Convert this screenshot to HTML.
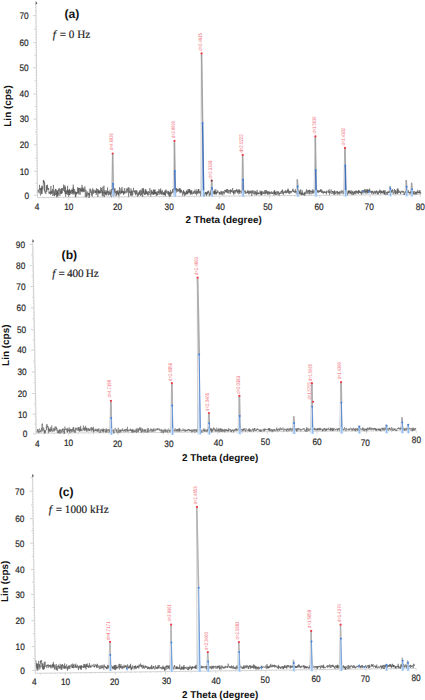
<!DOCTYPE html>
<html><head><meta charset="utf-8"><style>
html,body{margin:0;padding:0;background:#fff;width:425px;height:700px;overflow:hidden}
svg{display:block}
</style></head><body>
<svg width="425" height="700" viewBox="0 0 425 700" text-rendering="geometricPrecision">
<rect width="425" height="700" fill="#fff"/>
<path d="M36.46 192.80h1.0M36.45 190.40h1.0M36.43 188.00h1.0M36.41 185.60h1.0M35.39 183.20h2.0M36.37 180.80h1.0M36.35 178.40h1.0M36.34 176.00h1.0M36.32 173.60h1.0M36.28 168.57h1.0M36.26 165.94h1.0M36.24 163.31h1.0M36.22 160.68h1.0M35.20 158.05h2.0M36.18 155.42h1.0M36.16 152.79h1.0M36.14 150.16h1.0M36.12 147.53h1.0M36.08 142.32h1.0M36.06 139.74h1.0M36.04 137.16h1.0M36.02 134.58h1.0M35.00 132.00h2.0M35.98 129.42h1.0M35.96 126.84h1.0M35.94 124.26h1.0M35.92 121.68h1.0M35.88 116.59h1.0M35.86 114.08h1.0M35.84 111.57h1.0M35.82 109.06h1.0M34.80 106.55h2.0M35.78 104.04h1.0M35.76 101.53h1.0M35.74 99.02h1.0M35.73 96.51h1.0M35.69 91.37h1.0M35.67 88.74h1.0M35.65 86.11h1.0M35.63 83.48h1.0M34.60 80.85h2.0M35.58 78.22h1.0M35.56 75.59h1.0M35.54 72.96h1.0M35.52 70.33h1.0M35.48 65.19h1.0M35.47 62.68h1.0M35.45 60.17h1.0M35.43 57.66h1.0M34.41 55.15h2.0M35.39 52.64h1.0M35.37 50.13h1.0M35.35 47.62h1.0M35.33 45.11h1.0M35.29 39.91h1.0M35.27 37.22h1.0M35.25 34.53h1.0M35.23 31.84h1.0M34.21 29.15h2.0M35.19 26.46h1.0M35.17 23.77h1.0M35.15 21.08h1.0M35.13 18.39h1.0M35.08 13.01h1.0M35.06 10.32h1.0M35.04 7.63h1.0M35.02 4.94h1.0" stroke="#9a9a9a" stroke-width="0.45" fill="none"/>
<path d="M34.28 195.20h3.2M34.10 171.20h3.2M33.90 144.90h3.2M33.70 119.10h3.2M33.51 94.00h3.2M33.30 67.70h3.2M33.11 42.60h3.2M32.91 15.70h3.2" stroke="#b0b0b0" stroke-width="0.6" fill="none"/>
<path d="M38.67 197.49v0.90M43.69 197.45v1.40M48.71 197.41v0.90M53.74 197.37v0.90M58.76 197.33v0.90M63.78 197.29v0.90M68.80 197.26v2.50M73.82 197.22v0.90M78.84 197.18v0.90M83.86 197.14v0.90M88.89 197.10v0.90M93.91 197.06v1.40M98.93 197.02v0.90M103.95 196.98v0.90M108.97 196.94v0.90M113.99 196.90v0.90M119.01 196.86v2.50M124.04 196.82v0.90M129.06 196.78v0.90M134.08 196.74v0.90M139.10 196.70v0.90M144.12 196.67v1.40M149.14 196.63v0.90M154.16 196.59v0.90M159.19 196.55v0.90M164.21 196.51v0.90M169.23 196.47v2.50M174.25 196.43v0.90M179.27 196.39v0.90M184.29 196.35v0.90M189.31 196.31v0.90M194.34 196.27v1.40M199.36 196.23v0.90M204.38 196.19v0.90M209.40 196.15v0.90M214.42 196.12v0.90M219.44 196.08v2.50M224.46 196.04v0.90M229.49 196.00v0.90M234.51 195.96v0.90M239.53 195.92v0.90M244.55 195.88v1.40M249.57 195.84v0.90M254.59 195.80v0.90M259.61 195.76v0.90M264.64 195.72v0.90M269.66 195.68v2.50M274.68 195.64v0.90M279.70 195.60v0.90M284.72 195.57v0.90M289.74 195.53v0.90M294.76 195.49v1.40M299.79 195.45v0.90M304.81 195.41v0.90M309.83 195.37v0.90M314.85 195.33v0.90M319.87 195.29v2.50M324.89 195.25v0.90M329.91 195.21v0.90M334.94 195.17v0.90M339.96 195.13v0.90M344.98 195.09v1.40M350.00 195.05v0.90M355.02 195.01v0.90M360.04 194.98v0.90M365.06 194.94v0.90M370.09 194.90v2.50M375.11 194.86v0.90M380.13 194.82v0.90M385.15 194.78v0.90M390.17 194.74v0.90M395.19 194.70v1.40M400.21 194.66v0.90M405.24 194.62v0.90M410.26 194.58v0.90M415.28 194.54v0.90M420.30 194.50v2.50" stroke="#c4c4c4" stroke-width="0.6" fill="none"/>
<line x1="36.0" y1="2.0" x2="37.5" y2="197.5" stroke="#c2c2c2" stroke-width="0.7"/>
<line x1="37.5" y1="197.5" x2="420.8" y2="194.5" stroke="#c8c8c8" stroke-width="0.8"/>
<path d="M35.80 1.00l1.6 2.6l-1.8 0.6z" fill="#555"/>
<text transform="translate(28.60 19.00) scale(0.88 1)" text-anchor="end" font-family='"Liberation Sans", sans-serif' font-size="9.4" fill="#2a2a2a" stroke="#2a2a2a" stroke-width="0.22">70</text>
<text transform="translate(28.66 45.90) scale(0.88 1)" text-anchor="end" font-family='"Liberation Sans", sans-serif' font-size="9.4" fill="#2a2a2a" stroke="#2a2a2a" stroke-width="0.22">60</text>
<text transform="translate(28.71 71.00) scale(0.88 1)" text-anchor="end" font-family='"Liberation Sans", sans-serif' font-size="9.4" fill="#2a2a2a" stroke="#2a2a2a" stroke-width="0.22">50</text>
<text transform="translate(28.77 97.30) scale(0.88 1)" text-anchor="end" font-family='"Liberation Sans", sans-serif' font-size="9.4" fill="#2a2a2a" stroke="#2a2a2a" stroke-width="0.22">40</text>
<text transform="translate(28.83 122.40) scale(0.88 1)" text-anchor="end" font-family='"Liberation Sans", sans-serif' font-size="9.4" fill="#2a2a2a" stroke="#2a2a2a" stroke-width="0.22">30</text>
<text transform="translate(28.89 148.20) scale(0.88 1)" text-anchor="end" font-family='"Liberation Sans", sans-serif' font-size="9.4" fill="#2a2a2a" stroke="#2a2a2a" stroke-width="0.22">20</text>
<text transform="translate(28.94 174.50) scale(0.88 1)" text-anchor="end" font-family='"Liberation Sans", sans-serif' font-size="9.4" fill="#2a2a2a" stroke="#2a2a2a" stroke-width="0.22">10</text>
<text transform="translate(29.00 198.50) scale(0.88 1)" text-anchor="end" font-family='"Liberation Sans", sans-serif' font-size="9.4" fill="#2a2a2a" stroke="#2a2a2a" stroke-width="0.22">0</text>
<text transform="translate(37.00 210.10) scale(0.88 1)" text-anchor="middle" font-family='"Liberation Sans", sans-serif' font-size="9.4" fill="#2a2a2a" stroke="#2a2a2a" stroke-width="0.22">4</text>
<text transform="translate(68.80 210.10) scale(0.88 1)" text-anchor="middle" font-family='"Liberation Sans", sans-serif' font-size="9.4" fill="#2a2a2a" stroke="#2a2a2a" stroke-width="0.22">10</text>
<text transform="translate(117.50 210.10) scale(0.88 1)" text-anchor="middle" font-family='"Liberation Sans", sans-serif' font-size="9.4" fill="#2a2a2a" stroke="#2a2a2a" stroke-width="0.22">20</text>
<text transform="translate(169.20 210.10) scale(0.88 1)" text-anchor="middle" font-family='"Liberation Sans", sans-serif' font-size="9.4" fill="#2a2a2a" stroke="#2a2a2a" stroke-width="0.22">30</text>
<text transform="translate(220.30 209.80) scale(0.88 1)" text-anchor="middle" font-family='"Liberation Sans", sans-serif' font-size="9.4" fill="#2a2a2a" stroke="#2a2a2a" stroke-width="0.22">40</text>
<text transform="translate(267.80 210.10) scale(0.88 1)" text-anchor="middle" font-family='"Liberation Sans", sans-serif' font-size="9.4" fill="#2a2a2a" stroke="#2a2a2a" stroke-width="0.22">50</text>
<text transform="translate(319.10 209.80) scale(0.88 1)" text-anchor="middle" font-family='"Liberation Sans", sans-serif' font-size="9.4" fill="#2a2a2a" stroke="#2a2a2a" stroke-width="0.22">60</text>
<text transform="translate(369.20 210.10) scale(0.88 1)" text-anchor="middle" font-family='"Liberation Sans", sans-serif' font-size="9.4" fill="#2a2a2a" stroke="#2a2a2a" stroke-width="0.22">70</text>
<text transform="translate(420.30 210.10) scale(0.88 1)" text-anchor="middle" font-family='"Liberation Sans", sans-serif' font-size="9.4" fill="#2a2a2a" stroke="#2a2a2a" stroke-width="0.22">80</text>
<text x="223.60" y="223.30" text-anchor="middle" font-family='"Liberation Sans", sans-serif' font-weight="bold" font-size="9.9" fill="#111">2 Theta (degree)</text>
<text transform="translate(11.20 106.00) rotate(-90)" text-anchor="middle" font-family='"Liberation Sans", sans-serif' font-weight="bold" font-size="9.95" fill="#111">Lin (cps)</text>
<text x="71.85" y="18.10" text-anchor="middle" font-family='"Liberation Sans", sans-serif' font-weight="bold" font-size="12.2" fill="#111">(a)</text>
<text x="52.80" y="37.70" font-family='"Liberation Serif", serif' font-size="11.2" fill="#1a1a1a" stroke="#1a1a1a" stroke-width="0.15" word-spacing="0"><tspan font-style="italic">f</tspan><tspan dx="1.0"> = 0 Hz</tspan></text>
<path d="M38.10 192.35 38.28 189.64 38.46 189.66 38.64 192.09 38.82 191.90 39.00 191.83 39.18 193.34 39.36 192.41 39.54 184.87 39.72 188.56 39.90 190.02 40.08 188.40 40.26 191.72 40.44 195.56 40.62 194.17 40.80 188.10 40.98 189.94 41.16 191.26 41.34 187.52 41.52 193.89 41.70 190.74 41.88 185.75 42.06 194.02 42.24 188.43 42.42 186.63 42.60 188.38 42.78 189.47 42.96 188.66 43.14 185.97 43.32 180.07 43.50 181.84 43.68 180.31 43.86 183.32 44.04 181.03 44.22 188.47 44.40 191.00 44.58 182.44 44.76 187.98 44.94 192.62 45.12 190.80 45.30 191.70 45.48 192.72 45.66 192.67 45.84 194.16 46.02 192.30 46.20 188.32 46.38 184.97 46.56 191.82 46.74 192.02 46.92 186.43 47.10 187.80 47.28 188.78 47.46 184.74 47.64 187.04 47.82 190.27 48.00 188.13 48.18 189.36 48.36 189.44 48.54 188.26 48.72 188.13 48.90 192.88 49.08 193.81 49.26 192.04 49.44 193.19 49.62 192.35 49.80 191.78 49.98 193.44 50.16 193.36 50.34 191.38 50.52 194.68 50.70 193.15 50.88 186.03 51.06 192.90 51.24 192.95 51.42 193.86 51.60 190.88 51.78 193.78 51.96 192.39 52.14 192.36 52.32 190.46 52.50 188.98 52.68 194.37 52.86 195.96 53.04 190.72 53.22 193.11 53.40 184.95 53.58 188.40 53.76 188.45 53.94 195.31 54.12 192.67 54.30 192.73 54.48 196.21 54.66 191.81 54.84 190.35 55.02 192.77 55.20 195.19 55.38 195.00 55.56 189.03 55.74 190.53 55.92 188.89 56.10 194.81 56.28 190.89 56.46 190.30 56.64 197.34 56.82 196.94 57.00 192.75 57.18 196.12 57.36 190.96 57.54 193.55 57.72 190.24 57.90 196.67 58.08 192.51 58.26 194.79 58.44 191.89 58.62 190.58 58.80 189.02 58.98 191.25 59.16 187.86 59.34 191.92 59.52 193.78 59.70 193.64 59.88 195.93 60.06 194.18 60.24 188.89 60.42 193.79 60.60 190.79 60.78 190.73 60.96 191.25 61.14 191.29 61.32 193.83 61.50 188.14 61.68 193.80 61.86 189.20 62.04 192.96 62.22 193.01 62.40 188.14 62.58 189.07 62.76 189.53 62.94 188.79 63.12 190.02 63.30 190.94 63.48 190.26 63.66 184.55 63.84 188.95 64.02 186.93 64.20 188.13 64.38 191.40 64.56 190.62 64.74 191.87 64.92 185.28 65.10 193.91 65.28 189.48 65.46 186.87 65.64 196.73 65.82 192.77 66.00 191.30 66.18 193.96 66.36 191.26 66.54 193.58 66.72 191.06 66.90 190.38 67.08 191.76 67.26 189.22 67.44 194.78 67.62 185.81 67.80 193.45 67.98 193.74 68.16 193.90 68.34 194.57 68.52 190.40 68.70 196.84 68.88 190.40 69.06 192.52 69.24 189.58 69.42 195.00 69.60 188.86 69.78 194.95 69.96 194.95 70.14 193.32 70.32 190.25 70.50 193.29 70.68 191.50 70.86 192.82 71.04 192.56 71.22 193.85 71.40 189.95 71.58 191.75 71.76 192.09 71.94 192.12 72.12 188.63 72.30 194.29 72.48 191.40 72.66 189.64 72.84 191.58 73.02 192.96 73.20 184.62 73.38 194.44 73.56 187.32 73.74 191.67 73.92 191.02 74.10 192.71 74.28 192.46 74.46 193.80 74.64 189.17 74.82 193.44 75.00 194.16 75.18 193.93 75.36 196.93 75.54 191.50 75.72 197.24 75.90 193.98 76.08 192.15 76.26 192.25 76.44 194.56 76.62 192.13 76.80 193.55 76.98 192.42 77.16 193.82 77.34 190.41 77.52 188.42 77.70 187.01 77.88 192.90 78.06 191.57 78.24 188.30 78.42 193.31 78.60 190.28 78.78 188.00 78.96 194.64 79.14 191.79 79.32 187.93 79.50 189.07 79.68 188.11 79.86 192.00 80.04 193.22 80.22 194.69 80.40 190.43 80.58 188.82 80.76 191.33 80.94 187.75 81.12 191.08 81.30 190.37 81.48 189.33 81.66 192.12 81.84 189.72 82.02 184.92 82.20 191.09 82.38 191.11 82.56 187.52 82.74 189.96 82.92 192.25 83.10 188.88 83.28 190.69 83.46 191.74 83.64 187.76 83.82 189.11 84.00 190.30 84.18 190.73 84.36 189.71 84.54 190.54 84.72 191.85 84.90 186.39 85.08 192.22 85.26 196.86 85.44 194.81 85.62 194.23 85.80 191.80 85.98 189.80 86.16 190.21 86.34 197.41 86.52 192.51 86.70 192.78 86.88 193.06 87.06 194.20 87.24 196.35 87.42 192.78 87.60 191.78 87.78 191.46 87.96 192.08 88.14 194.57 88.32 193.19 88.50 194.82 88.68 193.62 88.86 195.80 89.04 198.03 89.22 194.77 89.40 192.67 89.58 196.33 89.76 189.85 89.94 188.53 90.12 191.42 90.30 191.70 90.48 189.89 90.66 189.08 90.84 192.97 91.02 191.85 91.20 192.47 91.38 195.49 91.56 191.89 91.74 190.44 91.92 190.98 92.10 192.99 92.28 196.67 92.46 191.81 92.64 188.29 92.82 192.69 93.00 193.23 93.18 193.05 93.36 193.94 93.54 189.77 93.72 189.44 93.90 192.87 94.08 192.74 94.26 192.20 94.44 191.42 94.62 191.25 94.80 190.26 94.98 193.08 95.16 192.64 95.34 190.47 95.52 191.40 95.70 192.80 95.88 190.78 96.06 192.26 96.24 195.00 96.42 188.18 96.60 191.92 96.78 193.10 96.96 191.44 97.14 191.00 97.32 189.01 97.50 192.42 97.68 193.04 97.86 196.96 98.04 190.52 98.22 193.32 98.40 189.30 98.58 192.46 98.76 191.16 98.94 192.48 99.12 191.27 99.30 193.68 99.48 190.94 99.66 190.29 99.84 193.58 100.02 191.47 100.20 192.69 100.38 191.92 100.56 192.53 100.74 187.17 100.92 192.04 101.10 193.28 101.28 190.00 101.46 188.06 101.64 191.25 101.82 191.17 102.00 190.19 102.18 195.27 102.36 196.26 102.54 191.42 102.72 193.64 102.90 186.65 103.08 193.04 103.26 196.22 103.44 192.11 103.62 192.58 103.80 189.53 103.98 185.66 104.16 191.47 104.34 197.06 104.52 191.89 104.70 190.50 104.88 193.49 105.06 192.26 105.24 194.02 105.42 191.87 105.60 192.00 105.78 195.12 105.96 190.10 106.14 193.10 106.32 195.40 106.50 193.95 106.68 191.78 106.86 193.78 107.04 191.13 107.22 191.99 107.40 191.20 107.58 187.46 107.76 193.29 107.94 191.41 108.12 195.47 108.30 193.60 108.48 192.52 108.66 191.20 108.84 192.55 109.02 195.07 109.20 191.83 109.38 194.08 109.56 193.79 109.74 192.26 109.92 189.69 110.10 189.83 110.28 191.69 110.46 194.51 110.64 191.88 110.82 196.09 111.00 193.53 111.18 193.57 111.36 197.25 111.54 189.03 111.72 193.96 111.90 194.65 112.08 190.97 112.26 195.26 112.44 190.70 112.62 188.78 112.80 191.79 112.98 191.32 113.16 191.72 113.34 191.13 113.52 194.02 113.70 196.23 113.88 191.65 114.06 195.83 114.24 191.70 114.42 189.11 114.60 191.95 114.78 192.19 114.96 188.05 115.14 192.49 115.32 193.07 115.50 191.99 115.68 191.79 115.86 191.10 116.04 196.23 116.22 192.46 116.40 190.88 116.58 194.42 116.76 193.65 116.94 195.30 117.12 191.33 117.30 192.75 117.48 191.37 117.66 193.72 117.84 190.07 118.02 192.96 118.20 193.91 118.38 191.60 118.56 195.10 118.74 193.15 118.92 196.49 119.10 194.36 119.28 193.45 119.46 187.21 119.64 193.21 119.82 190.84 120.00 192.81 120.18 193.97 120.36 194.18 120.54 192.04 120.72 192.28 120.90 188.35 121.08 193.49 121.26 193.55 121.44 193.24 121.62 190.86 121.80 193.14 121.98 187.01 122.16 192.91 122.34 190.61 122.52 192.48 122.70 191.71 122.88 191.26 123.06 191.80 123.24 191.49 123.42 194.63 123.60 191.42 123.78 194.50 123.96 192.10 124.14 193.46 124.32 188.20 124.50 193.25 124.68 192.04 124.86 191.79 125.04 190.93 125.22 191.04 125.40 193.23 125.58 193.00 125.76 192.20 125.94 192.23 126.12 191.78 126.30 188.35 126.48 191.94 126.66 191.70 126.84 193.21 127.02 193.08 127.20 191.84 127.38 191.22 127.56 188.46 127.74 191.70 127.92 191.51 128.10 191.37 128.28 187.11 128.46 188.58 128.64 196.57 128.82 192.03 129.00 191.33 129.18 187.72 129.36 192.94 129.54 191.09 129.72 191.43 129.90 191.42 130.08 191.85 130.26 193.41 130.44 191.73 130.62 192.22 130.80 196.02 130.98 188.35 131.16 195.13 131.34 193.95 131.52 190.90 131.70 190.71 131.88 190.16 132.06 196.24 132.24 191.04 132.42 191.04 132.60 192.58 132.78 194.96 132.96 192.77 133.14 191.75 133.32 191.09 133.50 187.84 133.68 190.33 133.86 191.88 134.04 192.13 134.22 190.42 134.40 191.02 134.58 192.47 134.76 191.16 134.94 191.74 135.12 192.97 135.30 194.39 135.48 191.16 135.66 190.19 135.84 195.32 136.02 193.11 136.20 193.80 136.38 190.19 136.56 193.24 136.74 192.88 136.92 191.84 137.10 190.76 137.28 191.49 137.46 196.66 137.64 193.50 137.82 193.48 138.00 194.19 138.18 193.44 138.36 192.96 138.54 195.77 138.72 192.92 138.90 192.00 139.08 194.41 139.26 194.50 139.44 190.51 139.62 193.86 139.80 191.60 139.98 191.57 140.16 194.40 140.34 194.02 140.52 195.90 140.70 189.79 140.88 191.65 141.06 192.16 141.24 190.70 141.42 195.40 141.60 192.64 141.78 192.70 141.96 194.22 142.14 188.48 142.32 191.21 142.50 191.83 142.68 196.89 142.86 190.67 143.04 188.08 143.22 192.70 143.40 188.55 143.58 192.76 143.76 190.86 143.94 194.07 144.12 193.90 144.30 192.41 144.48 195.02 144.66 193.21 144.84 192.54 145.02 189.97 145.20 189.47 145.38 193.45 145.56 194.74 145.74 189.02 145.92 194.23 146.10 190.98 146.28 194.00 146.46 193.56 146.64 190.77 146.82 190.67 147.00 191.93 147.18 193.52 147.36 191.83 147.54 194.61 147.72 193.23 147.90 195.71 148.08 193.97 148.26 192.56 148.44 191.20 148.62 193.69 148.80 194.17 148.98 195.05 149.16 192.36 149.34 192.11 149.52 191.77 149.70 192.86 149.88 188.06 150.06 193.14 150.24 192.88 150.42 194.66 150.60 195.27 150.78 196.37 150.96 193.68 151.14 190.48 151.32 194.21 151.50 194.41 151.68 189.89 151.86 191.47 152.04 193.50 152.22 192.07 152.40 192.32 152.58 193.91 152.76 191.59 152.94 194.96 153.12 194.42 153.30 191.60 153.48 189.69 153.66 193.36 153.84 195.09 154.02 189.73 154.20 193.90 154.38 190.05 154.56 193.84 154.74 191.72 154.92 193.99 155.10 189.31 155.28 193.39 155.46 194.10 155.64 192.30 155.82 193.37 156.00 192.25 156.18 195.70 156.36 194.20 156.54 193.18 156.72 191.60 156.90 195.79 157.08 194.26 157.26 193.74 157.44 194.94 157.62 191.13 157.80 191.45 157.98 194.83 158.16 194.32 158.34 191.89 158.52 191.30 158.70 193.04 158.88 188.91 159.06 189.80 159.24 190.53 159.42 191.00 159.60 194.58 159.78 193.55 159.96 189.93 160.14 191.53 160.32 193.16 160.50 190.94 160.68 188.45 160.86 194.37 161.04 190.47 161.22 191.94 161.40 192.41 161.58 194.62 161.76 191.57 161.94 193.84 162.12 191.54 162.30 191.78 162.48 190.28 162.66 193.93 162.84 194.33 163.02 193.40 163.20 195.43 163.38 192.45 163.56 193.68 163.74 192.34 163.92 193.21 164.10 192.95 164.28 194.70 164.46 191.42 164.64 195.25 164.82 192.90 165.00 194.52 165.18 190.26 165.36 192.67 165.54 196.05 165.72 194.10 165.90 189.51 166.08 192.46 166.26 191.84 166.44 190.83 166.62 191.22 166.80 193.10 166.98 192.58 167.16 192.46 167.34 193.62 167.52 194.14 167.70 193.12 167.88 190.66 168.06 190.92 168.24 193.78 168.42 191.29 168.60 195.58 168.78 192.87 168.96 193.81 169.14 192.33 169.32 193.98 169.50 196.30 169.68 194.11 169.86 191.87 170.04 196.76 170.22 191.56 170.40 190.08 170.58 190.12 170.76 195.71 170.94 192.42 171.12 193.87 171.30 191.99 171.48 193.35 171.66 192.40 171.84 192.47 172.02 192.18 172.20 190.91 172.38 192.24 172.56 192.32 172.74 188.99 172.92 192.85 173.10 191.57 173.28 189.80 173.46 192.27 173.64 188.22 173.82 195.14 174.00 191.20 174.18 191.15 174.36 189.12 174.54 194.04 174.72 192.56 174.90 190.45 175.08 192.72 175.26 191.85 175.44 189.78 175.62 189.66 175.80 191.02 175.98 190.43 176.16 188.09 176.34 191.76 176.52 192.59 176.70 188.21 176.88 191.39 177.06 189.62 177.24 191.61 177.42 191.39 177.60 190.54 177.78 189.04 177.96 190.50 178.14 190.01 178.32 189.43 178.50 190.47 178.68 189.86 178.86 190.73 179.04 191.95 179.22 188.05 179.40 190.27 179.58 189.16 179.76 191.16 179.94 193.24 180.12 193.15 180.30 188.38 180.48 192.31 180.66 191.93 180.84 189.86 181.02 191.17 181.20 192.37 181.38 189.78 181.56 191.88 181.74 192.44 181.92 191.10 182.10 192.26 182.28 192.38 182.46 195.58 182.64 194.67 182.82 193.17 183.00 191.72 183.18 191.83 183.36 194.01 183.54 189.93 183.72 192.33 183.90 190.95 184.08 193.29 184.26 195.92 184.44 192.12 184.62 192.84 184.80 192.04 184.98 194.95 185.16 195.47 185.34 192.68 185.52 194.02 185.70 193.13 185.88 194.69 186.06 194.01 186.24 190.91 186.42 193.77 186.60 191.27 186.78 191.55 186.96 194.17 187.14 189.57 187.32 194.24 187.50 192.24 187.68 191.72 187.86 193.66 188.04 193.72 188.22 189.70 188.40 190.59 188.58 191.99 188.76 192.78 188.94 188.90 189.12 193.10 189.30 189.47 189.48 191.75 189.66 190.18 189.84 189.11 190.02 192.86 190.20 191.08 190.38 194.65 190.56 191.77 190.74 190.56 190.92 192.19 191.10 194.62 191.28 190.33 191.46 193.83 191.64 191.20 191.82 190.40 192.00 190.92 192.18 192.29 192.36 193.00 192.54 194.40 192.72 193.58 192.90 192.98 193.08 192.31 193.26 192.09 193.44 193.71 193.62 191.46 193.80 191.39 193.98 192.16 194.16 193.74 194.34 191.49 194.52 192.20 194.70 191.10 194.88 192.11 195.06 189.48 195.24 193.57 195.42 194.09 195.60 193.41 195.78 191.68 195.96 193.37 196.14 192.13 196.32 191.38 196.50 195.34 196.68 194.62 196.86 189.28 197.04 190.87 197.22 192.45 197.40 191.65 197.58 193.12 197.76 194.13 197.94 191.02 198.12 192.56 198.30 190.62 198.48 189.07 198.66 193.07 198.84 189.07 199.02 191.51 199.20 191.01 199.38 193.41 199.56 193.35 199.74 192.55 199.92 193.31 200.10 192.21 200.28 191.41 200.46 193.60 200.64 196.28 200.82 190.66 201.00 194.47 201.18 195.51 201.36 191.73 201.54 193.78 201.72 191.83 201.90 192.68 202.08 193.80 202.26 191.28 202.44 195.85 202.62 194.91 202.80 194.38 202.98 192.23 203.16 195.03 203.34 196.31 203.52 196.41 203.70 195.03 203.88 192.84 204.06 193.76 204.24 194.56 204.42 196.53 204.60 193.46 204.78 194.30 204.96 193.25 205.14 192.24 205.32 193.46 205.50 192.19 205.68 193.54 205.86 191.90 206.04 195.06 206.22 193.05 206.40 193.12 206.58 195.94 206.76 192.51 206.94 193.82 207.12 192.19 207.30 194.29 207.48 191.47 207.66 191.22 207.84 193.62 208.02 191.48 208.20 192.50 208.38 191.76 208.56 190.64 208.74 193.15 208.92 192.34 209.10 192.47 209.28 196.06 209.46 193.98 209.64 194.60 209.82 193.35 210.00 193.68 210.18 194.89 210.36 190.56 210.54 195.35 210.72 194.67 210.90 194.41 211.08 192.90 211.26 193.01 211.44 193.03 211.62 192.97 211.80 193.83 211.98 195.95 212.16 193.34 212.34 192.20 212.52 193.56 212.70 192.27 212.88 192.40 213.06 191.48 213.24 193.49 213.42 193.12 213.60 193.76 213.78 193.37 213.96 190.99 214.14 194.31 214.32 191.83 214.50 189.75 214.68 193.75 214.86 191.29 215.04 194.69 215.22 191.19 215.40 193.89 215.58 193.77 215.76 189.13 215.94 189.72 216.12 193.17 216.30 192.03 216.48 194.48 216.66 191.74 216.84 192.61 217.02 193.26 217.20 192.73 217.38 192.40 217.56 192.27 217.74 190.30 217.92 192.93 218.10 192.17 218.28 191.93 218.46 191.73 218.64 191.74 218.82 192.14 219.00 192.11 219.18 194.41 219.36 193.92 219.54 192.26 219.72 194.36 219.90 192.43 220.08 193.22 220.26 194.07 220.44 193.65 220.62 193.72 220.80 191.14 220.98 191.71 221.16 194.91 221.34 192.94 221.52 191.27 221.70 193.33 221.88 194.08 222.06 193.50 222.24 192.46 222.42 191.61 222.60 191.66 222.78 195.40 222.96 194.52 223.14 192.60 223.32 191.13 223.50 192.98 223.68 193.07 223.86 192.95 224.04 191.94 224.22 193.73 224.40 194.23 224.58 190.34 224.76 190.74 224.94 189.92 225.12 190.68 225.30 190.16 225.48 192.09 225.66 192.39 225.84 190.58 226.02 192.14 226.20 191.29 226.38 189.15 226.56 191.05 226.74 192.27 226.92 190.60 227.10 192.84 227.28 192.44 227.46 188.95 227.64 191.56 227.82 192.78 228.00 193.31 228.18 191.47 228.36 191.31 228.54 189.82 228.72 191.99 228.90 193.35 229.08 192.03 229.26 191.18 229.44 190.92 229.62 190.34 229.80 191.23 229.98 190.09 230.16 192.82 230.34 193.95 230.52 189.53 230.70 192.09 230.88 192.24 231.06 189.60 231.24 190.80 231.42 191.75 231.60 191.18 231.78 190.48 231.96 192.21 232.14 191.09 232.32 191.36 232.50 190.30 232.68 187.95 232.86 191.07 233.04 193.11 233.22 191.83 233.40 192.85 233.58 190.47 233.76 194.75 233.94 191.30 234.12 192.74 234.30 193.42 234.48 191.58 234.66 190.12 234.84 190.86 235.02 191.54 235.20 193.57 235.38 190.09 235.56 190.30 235.74 191.66 235.92 190.47 236.10 191.79 236.28 190.66 236.46 189.21 236.64 191.05 236.82 189.81 237.00 189.78 237.18 192.16 237.36 193.30 237.54 190.78 237.72 191.76 237.90 192.68 238.08 189.59 238.26 191.94 238.44 191.69 238.62 190.42 238.80 194.26 238.98 190.49 239.16 189.16 239.34 191.07 239.52 192.44 239.70 190.11 239.88 193.69 240.06 191.05 240.24 191.74 240.42 191.58 240.60 190.86 240.78 190.80 240.96 190.68 241.14 191.28 241.32 193.08 241.50 192.07 241.68 192.39 241.86 191.74 242.04 190.25 242.22 193.34 242.40 192.27 242.58 191.11 242.76 192.42 242.94 190.79 243.12 193.23 243.30 193.67 243.48 194.43 243.66 191.27 243.84 191.49 244.02 190.25 244.20 190.41 244.38 192.23 244.56 190.82 244.74 191.01 244.92 191.23 245.10 193.74 245.28 192.60 245.46 190.70 245.64 191.56 245.82 193.79 246.00 193.16 246.18 192.64 246.36 192.69 246.54 191.96 246.72 192.38 246.90 193.24 247.08 193.05 247.26 190.64 247.44 190.34 247.62 193.09 247.80 192.89 247.98 191.34 248.16 193.29 248.34 191.23 248.52 191.26 248.70 191.62 248.88 194.51 249.06 190.33 249.24 192.62 249.42 193.35 249.60 193.79 249.78 192.93 249.96 191.92 250.14 191.18 250.32 191.62 250.50 193.25 250.68 192.48 250.86 190.53 251.04 192.94 251.22 191.19 251.40 193.07 251.58 194.51 251.76 195.94 251.94 192.43 252.12 191.65 252.30 190.36 252.48 193.46 252.66 192.54 252.84 192.31 253.02 190.60 253.20 191.94 253.38 193.90 253.56 193.72 253.74 192.75 253.92 192.64 254.10 190.60 254.28 194.60 254.46 192.73 254.64 192.69 254.82 193.54 255.00 193.44 255.18 193.59 255.36 190.91 255.54 193.83 255.72 192.52 255.90 192.29 256.08 195.33 256.26 194.13 256.44 194.77 256.62 191.72 256.80 194.24 256.98 191.51 257.16 189.89 257.34 193.23 257.52 193.13 257.70 192.95 257.88 194.58 258.06 192.75 258.24 193.81 258.42 193.02 258.60 192.52 258.78 192.57 258.96 193.94 259.14 192.83 259.32 194.13 259.50 193.39 259.68 192.95 259.86 192.24 260.04 190.66 260.22 191.99 260.40 193.53 260.58 193.44 260.76 192.14 260.94 194.88 261.12 190.81 261.30 195.41 261.48 191.57 261.66 194.14 261.84 192.38 262.02 194.48 262.20 194.85 262.38 193.40 262.56 192.05 262.74 191.03 262.92 191.38 263.10 193.02 263.28 193.94 263.46 192.68 263.64 192.16 263.82 193.73 264.00 192.75 264.18 192.78 264.36 192.36 264.54 190.45 264.72 191.30 264.90 194.48 265.08 192.31 265.26 193.55 265.44 190.12 265.62 191.87 265.80 193.63 265.98 191.69 266.16 192.71 266.34 193.43 266.52 191.95 266.70 190.08 266.88 192.47 267.06 192.48 267.24 191.21 267.42 194.35 267.60 192.45 267.78 191.92 267.96 194.86 268.14 192.85 268.32 191.35 268.50 193.77 268.68 193.89 268.86 193.30 269.04 191.85 269.22 192.98 269.40 191.54 269.58 194.46 269.76 193.36 269.94 192.47 270.12 192.59 270.30 194.16 270.48 193.64 270.66 192.30 270.84 192.80 271.02 193.22 271.20 191.43 271.38 191.45 271.56 192.20 271.74 193.99 271.92 192.97 272.10 192.24 272.28 191.97 272.46 192.22 272.64 193.89 272.82 193.01 273.00 193.91 273.18 191.51 273.36 191.80 273.54 191.87 273.72 192.00 273.90 195.19 274.08 195.01 274.26 190.90 274.44 193.98 274.62 189.99 274.80 192.67 274.98 192.62 275.16 192.02 275.34 194.83 275.52 192.01 275.70 194.21 275.88 191.57 276.06 193.17 276.24 194.62 276.42 194.69 276.60 195.00 276.78 193.53 276.96 192.04 277.14 190.90 277.32 192.96 277.50 193.57 277.68 192.64 277.86 192.35 278.04 194.88 278.22 191.56 278.40 192.72 278.58 191.65 278.76 191.57 278.94 193.42 279.12 195.55 279.30 192.70 279.48 193.98 279.66 193.08 279.84 193.40 280.02 192.88 280.20 193.01 280.38 193.31 280.56 192.66 280.74 191.54 280.92 193.85 281.10 194.00 281.28 191.49 281.46 192.08 281.64 191.10 281.82 190.53 282.00 190.65 282.18 192.68 282.36 189.58 282.54 191.52 282.72 194.15 282.90 190.67 283.08 191.22 283.26 191.57 283.44 192.52 283.62 194.68 283.80 191.96 283.98 192.77 284.16 192.38 284.34 192.25 284.52 192.40 284.70 191.48 284.88 192.37 285.06 192.96 285.24 190.38 285.42 191.64 285.60 191.47 285.78 192.71 285.96 190.20 286.14 193.54 286.32 192.72 286.50 192.40 286.68 191.33 286.86 192.21 287.04 192.86 287.22 191.17 287.40 192.44 287.58 190.26 287.76 191.07 287.94 188.55 288.12 191.40 288.30 189.47 288.48 192.38 288.66 193.33 288.84 190.81 289.02 191.76 289.20 193.89 289.38 190.98 289.56 190.95 289.74 192.57 289.92 192.80 290.10 193.48 290.28 191.60 290.46 192.19 290.64 191.59 290.82 192.33 291.00 190.89 291.18 192.66 291.36 192.80 291.54 191.71 291.72 191.11 291.90 191.74 292.08 191.34 292.26 191.22 292.44 190.94 292.62 189.82 292.80 190.85 292.98 188.61 293.16 192.17 293.34 191.16 293.52 191.75 293.70 191.74 293.88 190.37 294.06 191.60 294.24 191.15 294.42 191.90 294.60 192.50 294.78 191.63 294.96 191.60 295.14 192.72 295.32 189.32 295.50 192.37 295.68 191.24 295.86 192.16 296.04 191.38 296.22 190.99 296.40 194.55 296.58 193.60 296.76 193.23 296.94 193.72 297.12 193.05 297.30 193.68 297.48 191.80 297.66 193.33 297.84 193.70 298.02 193.23 298.20 190.65 298.38 194.99 298.56 193.88 298.74 194.51 298.92 191.83 299.10 190.25 299.28 193.59 299.46 192.45 299.64 193.91 299.82 191.43 300.00 190.76 300.18 194.52 300.36 193.56 300.54 191.40 300.72 189.29 300.90 192.55 301.08 194.71 301.26 193.02 301.44 194.59 301.62 193.44 301.80 192.47 301.98 195.10 302.16 190.22 302.34 192.68 302.52 194.89 302.70 192.38 302.88 192.56 303.06 192.76 303.24 193.39 303.42 195.08 303.60 193.85 303.78 193.93 303.96 194.70 304.14 194.73 304.32 193.02 304.50 194.04 304.68 192.43 304.86 195.73 305.04 191.84 305.22 193.88 305.40 193.55 305.58 193.60 305.76 193.89 305.94 193.13 306.12 191.25 306.30 192.29 306.48 189.33 306.66 191.31 306.84 193.22 307.02 193.85 307.20 192.95 307.38 192.47 307.56 192.13 307.74 190.15 307.92 193.58 308.10 192.49 308.28 192.47 308.46 190.26 308.64 191.88 308.82 191.04 309.00 190.74 309.18 194.51 309.36 192.09 309.54 191.02 309.72 189.66 309.90 193.57 310.08 190.69 310.26 190.68 310.44 191.42 310.62 190.71 310.80 190.48 310.98 193.29 311.16 194.29 311.34 191.78 311.52 191.15 311.70 192.05 311.88 190.92 312.06 191.22 312.24 190.69 312.42 193.65 312.60 191.93 312.78 189.39 312.96 191.45 313.14 193.11 313.32 191.05 313.50 192.46 313.68 192.51 313.86 190.50 314.04 192.01 314.22 194.03 314.40 190.25 314.58 191.58 314.76 190.64 314.94 190.27 315.12 191.14 315.30 192.02 315.48 191.40 315.66 192.83 315.84 191.72 316.02 190.51 316.20 192.26 316.38 191.06 316.56 189.56 316.74 192.66 316.92 189.91 317.10 191.79 317.28 191.85 317.46 190.47 317.64 192.28 317.82 190.36 318.00 192.36 318.18 191.07 318.36 191.32 318.54 192.84 318.72 191.96 318.90 190.41 319.08 191.23 319.26 190.50 319.44 192.13 319.62 192.06 319.80 190.78 319.98 192.00 320.16 191.98 320.34 191.08 320.52 189.45 320.70 191.40 320.88 189.78 321.06 189.19 321.24 191.92 321.42 192.64 321.60 191.98 321.78 190.15 321.96 192.53 322.14 190.55 322.32 192.71 322.50 192.73 322.68 192.17 322.86 191.77 323.04 193.43 323.22 192.71 323.40 193.47 323.58 193.34 323.76 191.40 323.94 192.35 324.12 192.86 324.30 191.07 324.48 192.00 324.66 193.09 324.84 192.31 325.02 192.72 325.20 191.72 325.38 191.56 325.56 191.72 325.74 192.89 325.92 192.16 326.10 191.88 326.28 194.38 326.46 194.03 326.64 190.75 326.82 192.75 327.00 192.56 327.18 192.33 327.36 191.57 327.54 191.56 327.72 191.42 327.90 191.30 328.08 190.74 328.26 190.39 328.44 192.76 328.62 191.45 328.80 191.70 328.98 192.47 329.16 189.36 329.34 192.95 329.52 194.65 329.70 191.39 329.88 192.87 330.06 193.05 330.24 193.26 330.42 191.80 330.60 191.99 330.78 191.78 330.96 191.80 331.14 189.30 331.32 192.64 331.50 193.46 331.68 193.80 331.86 193.17 332.04 191.15 332.22 191.84 332.40 191.86 332.58 190.93 332.76 192.36 332.94 193.90 333.12 191.42 333.30 192.61 333.48 192.78 333.66 191.55 333.84 192.80 334.02 194.90 334.20 191.75 334.38 192.33 334.56 190.37 334.74 194.38 334.92 191.67 335.10 193.05 335.28 193.89 335.46 193.93 335.64 192.47 335.82 191.79 336.00 191.11 336.18 190.92 336.36 192.14 336.54 192.99 336.72 193.28 336.90 192.98 337.08 191.41 337.26 194.65 337.44 194.04 337.62 191.19 337.80 192.62 337.98 191.83 338.16 192.11 338.34 193.08 338.52 193.53 338.70 192.09 338.88 193.32 339.06 192.79 339.24 194.61 339.42 191.91 339.60 192.53 339.78 192.18 339.96 191.07 340.14 193.84 340.32 192.72 340.50 192.32 340.68 191.87 340.86 191.72 341.04 191.55 341.22 190.61 341.40 191.37 341.58 193.39 341.76 191.81 341.94 190.49 342.12 190.78 342.30 190.62 342.48 191.79 342.66 191.56 342.84 192.24 343.02 193.90 343.20 191.34 343.38 192.46 343.56 192.74 343.74 194.38 343.92 192.00 344.10 192.06 344.28 189.42 344.46 190.28 344.64 193.59 344.82 190.44 345.00 193.35 345.18 192.84 345.36 192.08 345.54 191.80 345.72 190.13 345.90 191.63 346.08 190.98 346.26 192.00 346.44 190.92 346.62 192.08 346.80 192.58 346.98 192.76 347.16 192.74 347.34 195.34 347.52 193.84 347.70 193.16 347.88 192.74 348.06 190.82 348.24 193.62 348.42 190.66 348.60 191.80 348.78 192.80 348.96 190.54 349.14 193.59 349.32 190.59 349.50 192.55 349.68 192.61 349.86 191.46 350.04 191.66 350.22 193.09 350.40 194.03 350.58 191.48 350.76 192.72 350.94 190.98 351.12 190.25 351.30 193.42 351.48 192.99 351.66 193.30 351.84 192.26 352.02 195.00 352.20 190.77 352.38 193.07 352.56 191.98 352.74 192.38 352.92 191.85 353.10 192.43 353.28 195.07 353.46 192.91 353.64 193.39 353.82 193.30 354.00 191.44 354.18 194.16 354.36 191.35 354.54 193.32 354.72 193.26 354.90 193.43 355.08 191.19 355.26 191.60 355.44 191.22 355.62 194.16 355.80 192.76 355.98 190.56 356.16 192.35 356.34 190.71 356.52 191.59 356.70 192.44 356.88 191.43 357.06 193.47 357.24 192.04 357.42 193.24 357.60 191.23 357.78 191.02 357.96 191.52 358.14 191.81 358.32 190.46 358.50 193.90 358.68 190.10 358.86 192.50 359.04 190.63 359.22 190.63 359.40 192.85 359.58 191.36 359.76 191.13 359.94 192.19 360.12 192.90 360.30 191.52 360.48 193.09 360.66 191.98 360.84 193.30 361.02 192.82 361.20 192.85 361.38 192.03 361.56 194.74 361.74 192.74 361.92 190.39 362.10 192.50 362.28 190.60 362.46 191.11 362.64 190.81 362.82 193.53 363.00 191.31 363.18 190.78 363.36 191.13 363.54 190.24 363.72 193.58 363.90 192.27 364.08 192.20 364.26 189.86 364.44 192.52 364.62 192.17 364.80 188.96 364.98 189.92 365.16 190.15 365.34 190.82 365.52 192.43 365.70 190.52 365.88 193.80 366.06 191.23 366.24 189.22 366.42 192.28 366.60 192.12 366.78 191.38 366.96 190.03 367.14 192.09 367.32 193.43 367.50 189.18 367.68 192.85 367.86 190.12 368.04 190.25 368.22 189.58 368.40 189.67 368.58 193.05 368.76 190.17 368.94 192.12 369.12 190.22 369.30 192.31 369.48 192.05 369.66 188.62 369.84 190.44 370.02 191.05 370.20 190.69 370.38 191.79 370.56 192.54 370.74 192.42 370.92 191.05 371.10 192.52 371.28 192.59 371.46 191.22 371.64 193.20 371.82 193.95 372.00 194.14 372.18 190.74 372.36 192.66 372.54 192.66 372.72 192.56 372.90 190.87 373.08 191.50 373.26 191.81 373.44 194.25 373.62 192.14 373.80 192.05 373.98 192.30 374.16 192.34 374.34 192.56 374.52 190.80 374.70 192.60 374.88 192.43 375.06 193.73 375.24 191.71 375.42 193.61 375.60 192.80 375.78 191.11 375.96 191.66 376.14 191.43 376.32 190.40 376.50 192.58 376.68 192.71 376.86 190.87 377.04 193.52 377.22 193.91 377.40 192.55 377.58 192.86 377.76 194.41 377.94 191.30 378.12 192.85 378.30 194.27 378.48 192.86 378.66 191.33 378.84 192.48 379.02 192.60 379.20 191.52 379.38 192.92 379.56 192.68 379.74 189.57 379.92 192.24 380.10 191.23 380.28 190.39 380.46 192.57 380.64 193.94 380.82 192.53 381.00 190.75 381.18 192.54 381.36 191.65 381.54 193.08 381.72 190.74 381.90 192.40 382.08 193.08 382.26 191.72 382.44 193.41 382.62 193.06 382.80 192.74 382.98 190.83 383.16 192.30 383.34 191.75 383.52 192.21 383.70 190.30 383.88 193.59 384.06 190.66 384.24 194.02 384.42 191.78 384.60 194.58 384.78 193.20 384.96 190.04 385.14 190.57 385.32 192.16 385.50 191.95 385.68 192.38 385.86 194.83 386.04 194.01 386.22 191.78 386.40 192.11 386.58 192.72 386.76 191.98 386.94 192.39 387.12 194.68 387.30 193.99 387.48 194.20 387.66 191.50 387.84 193.37 388.02 192.33 388.20 192.82 388.38 191.47 388.56 192.82 388.74 192.25 388.92 192.57 389.10 192.21 389.28 190.72 389.46 192.63 389.64 191.78 389.82 192.58 390.00 192.27 390.18 192.84 390.36 190.17 390.54 191.98 390.72 193.05 390.90 191.67 391.08 190.06 391.26 191.90 391.44 192.35 391.62 190.57 391.80 191.73 391.98 192.62 392.16 189.54 392.34 189.55 392.52 190.67 392.70 191.54 392.88 189.69 393.06 192.50 393.24 194.14 393.42 192.13 393.60 192.48 393.78 192.29 393.96 192.30 394.14 191.60 394.32 191.20 394.50 189.06 394.68 191.29 394.86 193.39 395.04 192.40 395.22 190.80 395.40 194.11 395.58 190.02 395.76 191.07 395.94 193.92 396.12 194.00 396.30 193.45 396.48 192.31 396.66 191.94 396.84 191.31 397.02 193.13 397.20 188.82 397.38 192.14 397.56 194.10 397.74 191.85 397.92 188.31 398.10 192.89 398.28 190.09 398.46 189.80 398.64 192.63 398.82 192.25 399.00 192.84 399.18 191.79 399.36 191.09 399.54 190.82 399.72 192.23 399.90 191.94 400.08 192.31 400.26 192.82 400.44 191.81 400.62 194.06 400.80 192.61 400.98 193.20 401.16 190.88 401.34 191.52 401.52 191.70 401.70 191.90 401.88 191.46 402.06 190.69 402.24 191.45 402.42 192.38 402.60 192.01 402.78 191.00 402.96 191.62 403.14 192.67 403.32 192.26 403.50 191.05 403.68 192.69 403.86 192.72 404.04 194.87 404.22 193.95 404.40 194.23 404.58 193.76 404.76 192.49 404.94 194.61 405.12 193.61 405.30 191.68 405.48 193.27 405.66 193.14 405.84 191.29 406.02 192.05 406.20 190.31 406.38 192.47 406.56 192.34 406.74 192.38 406.92 192.31 407.10 192.01 407.28 193.17 407.46 192.27 407.64 192.88 407.82 191.48 408.00 192.48 408.18 190.64 408.36 190.20 408.54 191.94 408.72 192.02 408.90 193.19 409.08 191.94 409.26 193.05 409.44 192.12 409.62 192.23 409.80 192.84 409.98 194.21 410.16 192.96 410.34 192.51 410.52 192.78 410.70 191.39 410.88 192.84 411.06 191.19 411.24 193.95 411.42 191.42 411.60 194.21 411.78 192.11 411.96 191.93 412.14 192.41 412.32 194.36 412.50 192.56 412.68 193.12 412.86 192.96 413.04 194.56 413.22 191.13 413.40 193.32 413.58 192.84 413.76 193.91 413.94 192.08 414.12 192.06 414.30 191.27 414.48 191.21 414.66 192.02 414.84 194.61 415.02 193.08 415.20 193.35 415.38 192.21 415.56 194.01 415.74 192.35 415.92 193.59 416.10 191.45 416.28 192.84 416.46 194.43 416.64 192.96 416.82 192.06 417.00 192.04 417.18 192.99 417.36 191.52 417.54 193.25 417.72 189.88 417.90 191.68 418.08 191.64 418.26 193.14 418.44 192.47 418.62 193.22 418.80 192.06 418.98 193.07 419.16 190.81 419.34 191.27 419.52 193.04 419.70 191.08 419.88 190.10 420.06 192.33 420.24 193.85 420.42 192.32 420.60 191.75 420.78 193.66" stroke="#4a4a4a" stroke-width="0.5" fill="none" stroke-linejoin="round"/>
<path d="M111.10 196.18L112.80 186.90L113.30 186.90L114.90 196.18z" fill="#d3e4f8"/>
<path d="M111.30 192.88L112.40 153.50L114.00 192.88" stroke="#8c8c8c" stroke-width="0.4" fill="none"/>
<line x1="112.70" y1="153.50" x2="113.00" y2="183.80" stroke="#a2a2a2" stroke-width="1.45"/>
<line x1="113.00" y1="183.80" x2="113.09" y2="189.88" stroke="#4470b8" stroke-width="1.5"/>
<line x1="113.09" y1="189.88" x2="113.19" y2="196.18" stroke="#8fbbef" stroke-width="1.3"/>
<circle cx="113.00" cy="183.80" r="0.95" fill="#3d7fe0"/>
<circle cx="112.70" cy="153.50" r="1.1" fill="#f03c48"/>
<text transform="translate(112.80 150.30) rotate(-90)" textLength="17.2" lengthAdjust="spacingAndGlyphs" font-family='"Liberation Sans", sans-serif' font-size="5.2" fill="#f06a76">d=4.6836</text>
<path d="M172.90 196.72L174.60 177.43L175.10 177.43L176.70 196.72z" fill="#d3e4f8"/>
<path d="M173.10 193.42L174.20 140.80L175.80 193.42" stroke="#8c8c8c" stroke-width="0.4" fill="none"/>
<line x1="174.50" y1="140.80" x2="174.80" y2="171.00" stroke="#a2a2a2" stroke-width="1.45"/>
<line x1="174.80" y1="171.00" x2="175.09" y2="190.42" stroke="#4470b8" stroke-width="1.5"/>
<line x1="175.09" y1="190.42" x2="175.19" y2="196.72" stroke="#8fbbef" stroke-width="1.3"/>
<circle cx="174.80" cy="171.00" r="0.95" fill="#3d7fe0"/>
<circle cx="174.50" cy="140.80" r="1.1" fill="#f03c48"/>
<text transform="translate(174.60 138.30) rotate(-90)" textLength="17.4" lengthAdjust="spacingAndGlyphs" font-family='"Liberation Sans", sans-serif' font-size="5.2" fill="#f06a76">d=2.8699</text>
<path d="M200.70 196.74L202.40 141.36L202.90 141.36L204.50 196.74z" fill="#d3e4f8"/>
<path d="M200.90 193.44L201.30 53.30L203.60 193.44" stroke="#8c8c8c" stroke-width="0.4" fill="none"/>
<line x1="201.60" y1="53.30" x2="202.60" y2="122.90" stroke="#a2a2a2" stroke-width="1.45"/>
<line x1="202.60" y1="122.90" x2="203.61" y2="190.44" stroke="#4470b8" stroke-width="1.5"/>
<line x1="203.61" y1="190.44" x2="203.71" y2="196.74" stroke="#8fbbef" stroke-width="1.3"/>
<circle cx="202.60" cy="122.90" r="0.95" fill="#3d7fe0"/>
<circle cx="201.60" cy="53.30" r="1.1" fill="#f03c48"/>
<text transform="translate(201.70 50.70) rotate(-90)" textLength="17.6" lengthAdjust="spacingAndGlyphs" font-family='"Liberation Sans", sans-serif' font-size="5.2" fill="#f06a76">d=2.4615</text>
<path d="M210.10 196.75L211.80 190.11L212.30 190.11L213.90 196.75z" fill="#d3e4f8"/>
<path d="M210.30 193.45L211.40 180.70L213.00 193.45" stroke="#8c8c8c" stroke-width="0.4" fill="none"/>
<line x1="211.70" y1="180.70" x2="212.00" y2="187.90" stroke="#a2a2a2" stroke-width="1.45"/>
<line x1="212.00" y1="187.90" x2="212.04" y2="190.45" stroke="#4470b8" stroke-width="1.5"/>
<line x1="212.04" y1="190.45" x2="212.13" y2="196.75" stroke="#8fbbef" stroke-width="1.3"/>
<circle cx="212.00" cy="187.90" r="0.95" fill="#3d7fe0"/>
<circle cx="211.70" cy="180.70" r="1.1" fill="#8a3a3a"/>
<text transform="translate(211.80 178.60) rotate(-90)" textLength="17.9" lengthAdjust="spacingAndGlyphs" font-family='"Liberation Sans", sans-serif' font-size="5.2" fill="#f06a76">d=2.3339</text>
<path d="M241.10 196.77L242.80 183.74L243.30 183.74L244.90 196.77z" fill="#d3e4f8"/>
<path d="M241.30 193.47L242.40 154.90L244.00 193.47" stroke="#8c8c8c" stroke-width="0.4" fill="none"/>
<line x1="242.70" y1="154.90" x2="243.00" y2="179.40" stroke="#a2a2a2" stroke-width="1.45"/>
<line x1="243.00" y1="179.40" x2="243.17" y2="190.47" stroke="#4470b8" stroke-width="1.5"/>
<line x1="243.17" y1="190.47" x2="243.26" y2="196.77" stroke="#8fbbef" stroke-width="1.3"/>
<circle cx="243.00" cy="179.40" r="0.95" fill="#3d7fe0"/>
<circle cx="242.70" cy="154.90" r="1.1" fill="#f03c48"/>
<text transform="translate(242.80 152.60) rotate(-90)" textLength="18.3" lengthAdjust="spacingAndGlyphs" font-family='"Liberation Sans", sans-serif' font-size="5.2" fill="#f06a76">d=2.0222</text>
<path d="M295.80 196.70L297.50 188.98L298.00 188.98L299.60 196.70z" fill="#d3e4f8"/>
<path d="M296.00 193.40L297.10 179.30L298.70 193.40" stroke="#8c8c8c" stroke-width="0.4" fill="none"/>
<line x1="297.40" y1="179.30" x2="297.70" y2="186.40" stroke="#a2a2a2" stroke-width="1.45"/>
<line x1="297.70" y1="186.40" x2="297.76" y2="190.40" stroke="#4470b8" stroke-width="0.9"/>
<line x1="297.76" y1="190.40" x2="297.85" y2="196.70" stroke="#8fbbef" stroke-width="1.3"/>
<circle cx="297.70" cy="186.40" r="0.95" fill="#3d7fe0"/>
<path d="M313.80 196.60L315.50 176.65L316.00 176.65L317.60 196.60z" fill="#d3e4f8"/>
<path d="M314.00 193.30L315.10 136.40L316.70 193.30" stroke="#8c8c8c" stroke-width="0.4" fill="none"/>
<line x1="315.40" y1="136.40" x2="315.70" y2="170.00" stroke="#a2a2a2" stroke-width="1.45"/>
<line x1="315.70" y1="170.00" x2="316.00" y2="190.30" stroke="#4470b8" stroke-width="1.5"/>
<line x1="316.00" y1="190.30" x2="316.10" y2="196.60" stroke="#8fbbef" stroke-width="1.3"/>
<circle cx="315.70" cy="170.00" r="0.95" fill="#3d7fe0"/>
<circle cx="315.40" cy="136.40" r="1.1" fill="#f03c48"/>
<text transform="translate(315.50 133.60) rotate(-90)" textLength="17.2" lengthAdjust="spacingAndGlyphs" font-family='"Liberation Sans", sans-serif' font-size="5.2" fill="#f06a76">d=1.5636</text>
<path d="M343.40 196.44L345.10 173.16L345.60 173.16L347.20 196.44z" fill="#d3e4f8"/>
<path d="M343.60 193.14L344.70 147.90L346.30 193.14" stroke="#8c8c8c" stroke-width="0.4" fill="none"/>
<line x1="345.00" y1="147.90" x2="345.30" y2="165.40" stroke="#a2a2a2" stroke-width="1.45"/>
<line x1="345.30" y1="165.40" x2="345.67" y2="190.14" stroke="#4470b8" stroke-width="1.5"/>
<line x1="345.67" y1="190.14" x2="345.77" y2="196.44" stroke="#8fbbef" stroke-width="1.3"/>
<circle cx="345.30" cy="165.40" r="0.95" fill="#3d7fe0"/>
<circle cx="345.00" cy="147.90" r="1.1" fill="#f03c48"/>
<text transform="translate(345.10 145.40) rotate(-90)" textLength="17.5" lengthAdjust="spacingAndGlyphs" font-family='"Liberation Sans", sans-serif' font-size="5.2" fill="#f06a76">d=1.4302</text>
<path d="M388.50 196.34L390.20 190.46L390.70 190.46L392.30 196.34z" fill="#d3e4f8"/>
<path d="M388.70 193.04L389.80 186.20L391.40 193.04" stroke="#8c8c8c" stroke-width="0.4" fill="none"/>
<line x1="390.10" y1="186.20" x2="390.40" y2="188.50" stroke="#a2a2a2" stroke-width="1.45"/>
<line x1="390.40" y1="188.50" x2="390.42" y2="190.04" stroke="#4470b8" stroke-width="0.9"/>
<line x1="390.42" y1="190.04" x2="390.52" y2="196.34" stroke="#8fbbef" stroke-width="1.3"/>
<circle cx="390.40" cy="188.50" r="0.95" fill="#3d7fe0"/>
<path d="M404.70 196.37L406.40 189.12L406.90 189.12L408.50 196.37z" fill="#d3e4f8"/>
<path d="M404.90 193.07L406.00 180.00L407.60 193.07" stroke="#8c8c8c" stroke-width="0.4" fill="none"/>
<line x1="406.30" y1="180.00" x2="406.60" y2="186.70" stroke="#a2a2a2" stroke-width="1.45"/>
<line x1="406.60" y1="186.70" x2="406.65" y2="190.07" stroke="#4470b8" stroke-width="0.9"/>
<line x1="406.65" y1="190.07" x2="406.75" y2="196.37" stroke="#8fbbef" stroke-width="1.3"/>
<circle cx="406.60" cy="186.70" r="0.95" fill="#3d7fe0"/>
<path d="M410.10 196.38L411.80 191.00L412.30 191.00L413.90 196.38z" fill="#d3e4f8"/>
<path d="M410.30 193.08L411.40 182.80L413.00 193.08" stroke="#8c8c8c" stroke-width="0.4" fill="none"/>
<line x1="411.70" y1="182.80" x2="412.00" y2="189.20" stroke="#a2a2a2" stroke-width="1.45"/>
<line x1="412.00" y1="189.20" x2="412.01" y2="190.08" stroke="#4470b8" stroke-width="0.9"/>
<line x1="412.01" y1="190.08" x2="412.11" y2="196.38" stroke="#8fbbef" stroke-width="1.3"/>
<circle cx="412.00" cy="189.20" r="0.95" fill="#3d7fe0"/>
<path d="M362.80 194.10L363.20 191.10L364.10 194.10z" fill="#b9d3f3"/>
<circle cx="363.20" cy="191.60" r="0.95" fill="#4d88de"/>
<path d="M368.50 194.30L368.90 191.30L369.80 194.30z" fill="#b9d3f3"/>
<circle cx="368.90" cy="191.80" r="0.95" fill="#4d88de"/>
<path d="M35.28 431.84h1.0M35.24 429.88h1.0M35.20 427.92h1.0M35.17 425.96h1.0M34.13 424.00h2.0M35.10 422.04h1.0M35.06 420.08h1.0M35.03 418.12h1.0M34.99 416.16h1.0M34.92 412.13h1.0M34.88 410.06h1.0M34.84 407.99h1.0M34.81 405.92h1.0M33.77 403.85h2.0M34.73 401.78h1.0M34.69 399.71h1.0M34.66 397.64h1.0M34.62 395.57h1.0M34.54 391.35h1.0M34.50 389.20h1.0M34.46 387.05h1.0M34.42 384.90h1.0M33.39 382.75h2.0M34.35 380.60h1.0M34.31 378.45h1.0M34.27 376.30h1.0M34.23 374.15h1.0M34.15 369.81h1.0M34.11 367.62h1.0M34.07 365.43h1.0M34.03 363.24h1.0M32.99 361.05h2.0M33.95 358.86h1.0M33.91 356.67h1.0M33.87 354.48h1.0M33.83 352.29h1.0M33.76 348.06h1.0M33.72 346.02h1.0M33.68 343.98h1.0M33.65 341.94h1.0M32.61 339.90h2.0M33.57 337.86h1.0M33.54 335.82h1.0M33.50 333.78h1.0M33.46 331.74h1.0M33.39 327.51h1.0M33.35 325.32h1.0M33.31 323.13h1.0M33.27 320.94h1.0M32.23 318.75h2.0M33.19 316.56h1.0M33.15 314.37h1.0M33.11 312.18h1.0M33.07 309.99h1.0M32.99 305.68h1.0M32.95 303.56h1.0M32.91 301.44h1.0M32.87 299.32h1.0M31.84 297.20h2.0M32.80 295.08h1.0M32.76 292.96h1.0M32.72 290.84h1.0M32.68 288.72h1.0M32.61 284.50h1.0M32.57 282.40h1.0M32.53 280.30h1.0M32.49 278.20h1.0M31.45 276.10h2.0M32.42 274.00h1.0M32.38 271.90h1.0M32.34 269.80h1.0M32.30 267.70h1.0M32.23 263.48h1.0M32.19 261.36h1.0M32.15 259.24h1.0M32.11 257.12h1.0M31.07 255.00h2.0M32.03 252.88h1.0M31.99 250.76h1.0M31.96 248.64h1.0M31.92 246.52h1.0M31.84 242.28h1.0" stroke="#9a9a9a" stroke-width="0.45" fill="none"/>
<path d="M33.11 433.80h3.2M32.76 414.20h3.2M32.38 393.50h3.2M31.99 372.00h3.2M31.59 350.10h3.2M31.22 329.70h3.2M30.83 307.80h3.2M30.44 286.60h3.2M30.06 265.60h3.2M29.68 244.40h3.2" stroke="#b0b0b0" stroke-width="0.6" fill="none"/>
<path d="M38.79 433.18v0.90M43.76 433.15v1.40M48.73 433.11v0.90M53.69 433.08v0.90M58.66 433.05v0.90M63.63 433.01v0.90M68.60 432.98v2.50M73.57 432.94v0.90M78.54 432.91v0.90M83.51 432.88v0.90M88.47 432.84v0.90M93.44 432.81v1.40M98.41 432.77v0.90M103.38 432.74v0.90M108.35 432.71v0.90M113.32 432.67v0.90M118.29 432.64v2.50M123.25 432.60v0.90M128.22 432.57v0.90M133.19 432.54v0.90M138.16 432.50v0.90M143.13 432.47v1.40M148.10 432.43v0.90M153.07 432.40v0.90M158.03 432.37v0.90M163.00 432.33v0.90M167.97 432.30v2.50M172.94 432.26v0.90M177.91 432.23v0.90M182.88 432.20v0.90M187.85 432.16v0.90M192.81 432.13v1.40M197.78 432.09v0.90M202.75 432.06v0.90M207.72 432.03v0.90M212.69 431.99v0.90M217.66 431.96v2.50M222.63 431.92v0.90M227.59 431.89v0.90M232.56 431.86v0.90M237.53 431.82v0.90M242.50 431.79v1.40M247.47 431.75v0.90M252.44 431.72v0.90M257.41 431.69v0.90M262.37 431.65v0.90M267.34 431.62v2.50M272.31 431.58v0.90M277.28 431.55v0.90M282.25 431.52v0.90M287.22 431.48v0.90M292.19 431.45v1.40M297.15 431.41v0.90M302.12 431.38v0.90M307.09 431.35v0.90M312.06 431.31v0.90M317.03 431.28v2.50M322.00 431.24v0.90M326.97 431.21v0.90M331.93 431.18v0.90M336.90 431.14v0.90M341.87 431.11v1.40M346.84 431.07v0.90M351.81 431.04v0.90M356.78 431.01v0.90M361.75 430.97v0.90M366.71 430.94v2.50M371.68 430.90v0.90M376.65 430.87v0.90M381.62 430.84v0.90M386.59 430.80v0.90M391.56 430.77v1.40M396.53 430.73v0.90M401.49 430.70v0.90M406.46 430.67v0.90M411.43 430.63v0.90M416.40 430.60v2.50" stroke="#c4c4c4" stroke-width="0.6" fill="none"/>
<line x1="32.8" y1="240.0" x2="36.3" y2="433.2" stroke="#c2c2c2" stroke-width="0.7"/>
<line x1="36.3" y1="433.2" x2="416.2" y2="430.6" stroke="#c8c8c8" stroke-width="0.8"/>
<path d="M32.60 239.00l1.6 2.6l-1.8 0.6z" fill="#555"/>
<text transform="translate(25.00 247.70) scale(0.88 1)" text-anchor="end" font-family='"Liberation Sans", sans-serif' font-size="9.4" fill="#2a2a2a" stroke="#2a2a2a" stroke-width="0.22">90</text>
<text transform="translate(25.27 268.90) scale(0.88 1)" text-anchor="end" font-family='"Liberation Sans", sans-serif' font-size="9.4" fill="#2a2a2a" stroke="#2a2a2a" stroke-width="0.22">80</text>
<text transform="translate(25.53 289.90) scale(0.88 1)" text-anchor="end" font-family='"Liberation Sans", sans-serif' font-size="9.4" fill="#2a2a2a" stroke="#2a2a2a" stroke-width="0.22">70</text>
<text transform="translate(25.80 311.10) scale(0.88 1)" text-anchor="end" font-family='"Liberation Sans", sans-serif' font-size="9.4" fill="#2a2a2a" stroke="#2a2a2a" stroke-width="0.22">60</text>
<text transform="translate(26.07 333.00) scale(0.88 1)" text-anchor="end" font-family='"Liberation Sans", sans-serif' font-size="9.4" fill="#2a2a2a" stroke="#2a2a2a" stroke-width="0.22">50</text>
<text transform="translate(26.33 353.40) scale(0.88 1)" text-anchor="end" font-family='"Liberation Sans", sans-serif' font-size="9.4" fill="#2a2a2a" stroke="#2a2a2a" stroke-width="0.22">40</text>
<text transform="translate(26.60 375.30) scale(0.88 1)" text-anchor="end" font-family='"Liberation Sans", sans-serif' font-size="9.4" fill="#2a2a2a" stroke="#2a2a2a" stroke-width="0.22">30</text>
<text transform="translate(26.87 396.80) scale(0.88 1)" text-anchor="end" font-family='"Liberation Sans", sans-serif' font-size="9.4" fill="#2a2a2a" stroke="#2a2a2a" stroke-width="0.22">20</text>
<text transform="translate(27.13 417.50) scale(0.88 1)" text-anchor="end" font-family='"Liberation Sans", sans-serif' font-size="9.4" fill="#2a2a2a" stroke="#2a2a2a" stroke-width="0.22">10</text>
<text transform="translate(27.40 437.10) scale(0.88 1)" text-anchor="end" font-family='"Liberation Sans", sans-serif' font-size="9.4" fill="#2a2a2a" stroke="#2a2a2a" stroke-width="0.22">0</text>
<text transform="translate(37.40 446.60) scale(0.88 1)" text-anchor="middle" font-family='"Liberation Sans", sans-serif' font-size="9.4" fill="#2a2a2a" stroke="#2a2a2a" stroke-width="0.22">4</text>
<text transform="translate(68.60 446.20) scale(0.88 1)" text-anchor="middle" font-family='"Liberation Sans", sans-serif' font-size="9.4" fill="#2a2a2a" stroke="#2a2a2a" stroke-width="0.22">10</text>
<text transform="translate(117.60 446.90) scale(0.88 1)" text-anchor="middle" font-family='"Liberation Sans", sans-serif' font-size="9.4" fill="#2a2a2a" stroke="#2a2a2a" stroke-width="0.22">20</text>
<text transform="translate(168.90 446.70) scale(0.88 1)" text-anchor="middle" font-family='"Liberation Sans", sans-serif' font-size="9.4" fill="#2a2a2a" stroke="#2a2a2a" stroke-width="0.22">30</text>
<text transform="translate(218.40 446.20) scale(0.88 1)" text-anchor="middle" font-family='"Liberation Sans", sans-serif' font-size="9.4" fill="#2a2a2a" stroke="#2a2a2a" stroke-width="0.22">40</text>
<text transform="translate(265.40 445.10) scale(0.88 1)" text-anchor="middle" font-family='"Liberation Sans", sans-serif' font-size="9.4" fill="#2a2a2a" stroke="#2a2a2a" stroke-width="0.22">50</text>
<text transform="translate(317.00 444.90) scale(0.88 1)" text-anchor="middle" font-family='"Liberation Sans", sans-serif' font-size="9.4" fill="#2a2a2a" stroke="#2a2a2a" stroke-width="0.22">60</text>
<text transform="translate(365.30 445.50) scale(0.88 1)" text-anchor="middle" font-family='"Liberation Sans", sans-serif' font-size="9.4" fill="#2a2a2a" stroke="#2a2a2a" stroke-width="0.22">70</text>
<text transform="translate(416.40 443.30) scale(0.88 1)" text-anchor="middle" font-family='"Liberation Sans", sans-serif' font-size="9.4" fill="#2a2a2a" stroke="#2a2a2a" stroke-width="0.22">80</text>
<text x="220.20" y="461.20" text-anchor="middle" font-family='"Liberation Sans", sans-serif' font-weight="bold" font-size="9.9" fill="#111">2 Theta (degree)</text>
<text transform="translate(8.50 345.20) rotate(-90)" text-anchor="middle" font-family='"Liberation Sans", sans-serif' font-weight="bold" font-size="9.95" fill="#111">Lin (cps)</text>
<text x="69.40" y="258.80" text-anchor="middle" font-family='"Liberation Sans", sans-serif' font-weight="bold" font-size="12.2" fill="#111">(b)</text>
<text x="52.30" y="277.00" font-family='"Liberation Serif", serif' font-size="11.2" fill="#1a1a1a" stroke="#1a1a1a" stroke-width="0.15" word-spacing="-0.7"><tspan font-style="italic">f</tspan><tspan dx="1.0"> = 400 Hz</tspan></text>
<path d="M37.00 431.00 37.20 432.43 37.40 430.24 37.60 429.00 37.80 431.37 38.00 429.17 38.20 430.32 38.40 430.62 38.60 432.75 38.80 431.04 39.00 432.93 39.20 430.32 39.40 429.48 39.60 428.48 39.80 431.55 40.00 431.95 40.20 430.99 40.40 431.53 40.60 431.74 40.80 430.07 41.00 432.44 41.20 430.30 41.40 429.34 41.60 427.71 41.80 430.96 42.00 424.27 42.20 425.61 42.40 423.45 42.60 431.45 42.80 430.34 43.00 427.24 43.20 426.83 43.40 429.15 43.60 430.28 43.80 428.51 44.00 430.06 44.20 432.73 44.40 430.24 44.60 433.20 44.80 430.08 45.00 433.52 45.20 430.33 45.40 432.43 45.60 432.04 45.80 430.04 46.00 429.85 46.20 429.70 46.40 425.67 46.60 430.09 46.80 423.98 47.00 425.31 47.20 424.79 47.40 427.21 47.60 426.11 47.80 427.43 48.00 426.25 48.20 431.47 48.40 433.07 48.60 427.37 48.80 431.31 49.00 428.28 49.20 431.32 49.40 429.86 49.60 429.16 49.80 432.07 50.00 429.23 50.20 430.71 50.40 431.64 50.60 427.85 50.80 427.11 51.00 431.18 51.20 428.46 51.40 430.78 51.60 426.52 51.80 425.37 52.00 428.30 52.20 432.18 52.40 430.71 52.60 430.24 52.80 429.76 53.00 428.74 53.20 430.33 53.40 431.60 53.60 429.82 53.80 427.97 54.00 429.22 54.20 430.86 54.40 430.13 54.60 428.87 54.80 431.38 55.00 426.62 55.20 430.00 55.40 426.73 55.60 426.96 55.80 427.16 56.00 426.69 56.20 426.51 56.40 429.04 56.60 427.58 56.80 430.56 57.00 428.31 57.20 431.16 57.40 433.04 57.60 431.37 57.80 430.13 58.00 431.32 58.20 432.63 58.40 430.24 58.60 433.38 58.80 431.55 59.00 431.76 59.20 430.89 59.40 433.37 59.60 429.20 59.80 431.37 60.00 429.88 60.20 430.84 60.40 429.56 60.60 433.63 60.80 432.31 61.00 431.50 61.20 432.17 61.40 430.56 61.60 429.67 61.80 432.88 62.00 431.47 62.20 431.72 62.40 429.09 62.60 430.93 62.80 428.56 63.00 430.21 63.20 428.58 63.40 432.07 63.60 431.52 63.80 430.98 64.00 433.64 64.20 431.40 64.40 428.94 64.60 433.66 64.80 426.51 65.00 428.21 65.20 429.60 65.40 429.34 65.60 429.88 65.80 430.06 66.00 429.24 66.20 428.27 66.40 430.08 66.60 429.95 66.80 428.85 67.00 431.84 67.20 430.32 67.40 432.72 67.60 427.83 67.80 431.93 68.00 431.29 68.20 430.89 68.40 429.63 68.60 430.87 68.80 429.67 69.00 430.78 69.20 427.22 69.40 432.32 69.60 429.59 69.80 429.40 70.00 433.28 70.20 430.23 70.40 428.87 70.60 429.89 70.80 431.26 71.00 428.93 71.20 430.70 71.40 429.37 71.60 432.39 71.80 430.79 72.00 431.07 72.20 430.34 72.40 429.41 72.60 428.56 72.80 432.19 73.00 429.01 73.20 427.36 73.40 430.72 73.60 426.94 73.80 431.25 74.00 432.00 74.20 431.70 74.40 429.84 74.60 432.85 74.80 430.30 75.00 429.46 75.20 429.53 75.40 427.67 75.60 432.67 75.80 430.54 76.00 429.87 76.20 428.20 76.40 429.65 76.60 429.52 76.80 427.79 77.00 430.34 77.20 430.60 77.40 430.15 77.60 429.44 77.80 429.54 78.00 427.21 78.20 430.57 78.40 429.34 78.60 427.39 78.80 431.06 79.00 427.02 79.20 427.15 79.40 431.88 79.60 429.14 79.80 429.02 80.00 429.88 80.20 427.70 80.40 431.01 80.60 425.82 80.80 431.41 81.00 430.34 81.20 430.74 81.40 428.67 81.60 430.37 81.80 430.12 82.00 431.10 82.20 431.14 82.40 430.71 82.60 429.30 82.80 429.13 83.00 428.52 83.20 429.49 83.40 425.53 83.60 429.62 83.80 429.39 84.00 427.54 84.20 431.28 84.40 429.01 84.60 427.47 84.80 430.70 85.00 428.68 85.20 429.74 85.40 428.42 85.60 425.79 85.80 430.27 86.00 427.50 86.20 428.18 86.40 431.89 86.60 428.60 86.80 429.71 87.00 427.89 87.20 429.72 87.40 429.58 87.60 431.39 87.80 430.49 88.00 428.54 88.20 429.45 88.40 430.37 88.60 428.20 88.80 430.14 89.00 431.26 89.20 428.66 89.40 431.02 89.60 430.77 89.80 429.29 90.00 430.35 90.20 430.33 90.40 430.07 90.60 427.55 90.80 428.27 91.00 428.75 91.20 431.65 91.40 430.29 91.60 427.28 91.80 430.30 92.00 428.48 92.20 427.66 92.40 429.94 92.60 430.07 92.80 428.01 93.00 430.43 93.20 431.68 93.40 426.72 93.60 432.45 93.80 430.02 94.00 430.49 94.20 429.33 94.40 429.21 94.60 430.75 94.80 431.67 95.00 430.69 95.20 429.78 95.40 430.73 95.60 429.06 95.80 428.68 96.00 430.98 96.20 429.21 96.40 429.43 96.60 430.99 96.80 431.54 97.00 430.52 97.20 428.93 97.40 430.82 97.60 431.54 97.80 429.40 98.00 431.81 98.20 429.49 98.40 429.47 98.60 430.88 98.80 429.04 99.00 428.05 99.20 430.53 99.40 432.55 99.60 432.31 99.80 432.83 100.00 430.60 100.20 430.31 100.40 429.84 100.60 432.69 100.80 429.32 101.00 429.74 101.20 430.28 101.40 429.90 101.60 431.12 101.80 429.56 102.00 429.56 102.20 428.64 102.40 431.53 102.60 429.73 102.80 429.67 103.00 432.45 103.20 429.18 103.40 431.35 103.60 428.62 103.80 431.09 104.00 431.95 104.20 430.15 104.40 429.32 104.60 429.65 104.80 430.11 105.00 429.54 105.20 429.18 105.40 432.54 105.60 430.62 105.80 431.87 106.00 430.36 106.20 430.73 106.40 428.31 106.60 432.69 106.80 430.86 107.00 429.65 107.20 431.72 107.40 430.94 107.60 429.80 107.80 429.49 108.00 430.05 108.20 429.70 108.40 430.51 108.60 429.60 108.80 429.74 109.00 432.73 109.20 429.30 109.40 430.16 109.60 431.35 109.80 430.41 110.00 432.83 110.20 430.58 110.40 431.63 110.60 431.12 110.80 432.02 111.00 429.84 111.20 430.08 111.40 429.78 111.60 430.05 111.80 432.35 112.00 430.90 112.20 430.69 112.40 431.23 112.60 431.87 112.80 429.79 113.00 430.54 113.20 433.27 113.40 429.58 113.60 429.45 113.80 432.08 114.00 433.41 114.20 433.41 114.40 430.70 114.60 430.25 114.80 430.42 115.00 428.95 115.20 427.78 115.40 430.54 115.60 430.55 115.80 431.16 116.00 430.65 116.20 430.75 116.40 431.92 116.60 429.07 116.80 430.49 117.00 432.68 117.20 432.53 117.40 433.32 117.60 430.49 117.80 430.47 118.00 430.26 118.20 427.78 118.40 432.37 118.60 431.71 118.80 432.24 119.00 430.10 119.20 431.34 119.40 430.71 119.60 429.70 119.80 433.12 120.00 431.70 120.20 431.63 120.40 429.61 120.60 432.12 120.80 429.98 121.00 431.35 121.20 430.62 121.40 430.92 121.60 429.57 121.80 429.71 122.00 431.44 122.20 431.29 122.40 429.69 122.60 428.37 122.80 430.71 123.00 429.67 123.20 430.90 123.40 431.13 123.60 431.69 123.80 431.12 124.00 430.08 124.20 431.03 124.40 431.30 124.60 429.43 124.80 430.71 125.00 430.64 125.20 429.11 125.40 432.11 125.60 431.34 125.80 431.26 126.00 428.79 126.20 430.60 126.40 429.43 126.60 430.08 126.80 430.49 127.00 431.79 127.20 431.08 127.40 426.80 127.60 431.19 127.80 429.56 128.00 431.25 128.20 430.40 128.40 430.93 128.60 430.42 128.80 431.55 129.00 430.67 129.20 429.28 129.40 429.62 129.60 429.89 129.80 430.82 130.00 430.69 130.20 428.81 130.40 428.65 130.60 430.97 130.80 429.89 131.00 430.80 131.20 429.29 131.40 431.67 131.60 431.44 131.80 432.64 132.00 430.03 132.20 431.25 132.40 429.04 132.60 432.52 132.80 429.89 133.00 431.56 133.20 430.39 133.40 432.17 133.60 430.32 133.80 429.41 134.00 429.46 134.20 430.52 134.40 430.50 134.60 432.40 134.80 431.01 135.00 431.79 135.20 430.23 135.40 432.04 135.60 430.47 135.80 429.80 136.00 430.17 136.20 428.54 136.40 429.01 136.60 433.06 136.80 430.23 137.00 431.46 137.20 428.11 137.40 430.25 137.60 431.36 137.80 430.83 138.00 431.46 138.20 429.13 138.40 432.06 138.60 428.43 138.80 428.42 139.00 430.23 139.20 430.06 139.40 429.67 139.60 427.16 139.80 429.12 140.00 430.41 140.20 428.15 140.40 430.00 140.60 431.27 140.80 427.44 141.00 428.13 141.20 430.41 141.40 432.43 141.60 430.53 141.80 432.46 142.00 429.13 142.20 428.17 142.40 430.44 142.60 429.01 142.80 432.09 143.00 430.68 143.20 429.67 143.40 430.47 143.60 430.44 143.80 431.61 144.00 431.63 144.20 429.53 144.40 430.50 144.60 429.58 144.80 432.48 145.00 429.93 145.20 429.47 145.40 430.54 145.60 431.67 145.80 429.25 146.00 430.72 146.20 431.25 146.40 431.87 146.60 432.54 146.80 432.59 147.00 431.86 147.20 430.53 147.40 428.36 147.60 432.36 147.80 430.45 148.00 430.53 148.20 431.80 148.40 428.07 148.60 429.81 148.80 429.67 149.00 432.12 149.20 431.16 149.40 430.68 149.60 430.09 149.80 430.37 150.00 430.92 150.20 429.89 150.40 428.59 150.60 429.94 150.80 429.80 151.00 431.39 151.20 432.12 151.40 430.61 151.60 428.73 151.80 430.20 152.00 429.58 152.20 431.15 152.40 429.75 152.60 431.81 152.80 430.83 153.00 429.68 153.20 430.32 153.40 428.42 153.60 430.15 153.80 431.83 154.00 430.19 154.20 430.83 154.40 429.79 154.60 429.44 154.80 428.63 155.00 429.90 155.20 431.34 155.40 429.05 155.60 429.37 155.80 429.37 156.00 429.69 156.20 429.53 156.40 429.74 156.60 430.42 156.80 428.36 157.00 428.20 157.20 429.14 157.40 430.06 157.60 428.39 157.80 430.06 158.00 429.02 158.20 428.98 158.40 429.25 158.60 428.57 158.80 428.92 159.00 429.29 159.20 428.76 159.40 430.49 159.60 430.83 159.80 428.72 160.00 429.50 160.20 429.58 160.40 430.48 160.60 430.54 160.80 429.92 161.00 431.18 161.20 432.82 161.40 429.28 161.60 430.61 161.80 429.83 162.00 429.98 162.20 430.07 162.40 432.49 162.60 430.41 162.80 430.46 163.00 429.68 163.20 429.68 163.40 433.45 163.60 432.73 163.80 430.20 164.00 429.82 164.20 431.65 164.40 430.67 164.60 430.73 164.80 431.31 165.00 428.68 165.20 431.50 165.40 432.25 165.60 429.72 165.80 430.50 166.00 430.10 166.20 430.41 166.40 432.25 166.60 432.04 166.80 431.00 167.00 429.44 167.20 431.31 167.40 431.49 167.60 430.57 167.80 432.64 168.00 429.89 168.20 429.92 168.40 429.44 168.60 429.01 168.80 428.56 169.00 430.88 169.20 430.10 169.40 431.10 169.60 430.31 169.80 432.59 170.00 430.76 170.20 431.75 170.40 431.64 170.60 430.06 170.80 430.06 171.00 430.67 171.20 430.71 171.40 429.00 171.60 430.16 171.80 429.44 172.00 429.57 172.20 429.50 172.40 431.03 172.60 430.92 172.80 429.67 173.00 429.52 173.20 431.54 173.40 430.06 173.60 430.78 173.80 430.79 174.00 430.29 174.20 431.37 174.40 431.46 174.60 429.53 174.80 430.22 175.00 430.53 175.20 428.20 175.40 430.09 175.60 430.74 175.80 431.42 176.00 430.61 176.20 431.47 176.40 430.07 176.60 430.71 176.80 428.97 177.00 431.14 177.20 429.53 177.40 428.97 177.60 430.36 177.80 431.44 178.00 429.75 178.20 431.58 178.40 429.94 178.60 428.75 178.80 428.93 179.00 430.72 179.20 428.29 179.40 431.58 179.60 428.65 179.80 430.29 180.00 431.38 180.20 430.53 180.40 429.22 180.60 429.15 180.80 429.29 181.00 431.19 181.20 431.35 181.40 430.76 181.60 430.93 181.80 431.10 182.00 430.54 182.20 430.03 182.40 430.07 182.60 430.52 182.80 430.13 183.00 428.55 183.20 431.16 183.40 430.55 183.60 430.48 183.80 429.71 184.00 430.72 184.20 430.66 184.40 429.80 184.60 429.31 184.80 431.59 185.00 430.32 185.20 430.76 185.40 431.26 185.60 429.53 185.80 429.74 186.00 431.55 186.20 430.19 186.40 431.04 186.60 430.30 186.80 430.69 187.00 430.70 187.20 430.19 187.40 429.30 187.60 431.11 187.80 430.04 188.00 429.84 188.20 430.06 188.40 429.00 188.60 430.51 188.80 428.88 189.00 429.35 189.20 430.15 189.40 430.39 189.60 429.51 189.80 431.48 190.00 431.15 190.20 430.10 190.40 431.04 190.60 429.97 190.80 430.72 191.00 429.49 191.20 430.01 191.40 430.40 191.60 432.50 191.80 430.00 192.00 430.61 192.20 429.40 192.40 431.88 192.60 431.62 192.80 430.33 193.00 430.99 193.20 431.61 193.40 431.55 193.60 429.37 193.80 430.93 194.00 430.57 194.20 431.18 194.40 428.98 194.60 429.67 194.80 429.86 195.00 432.85 195.20 430.29 195.40 430.75 195.60 430.16 195.80 429.12 196.00 430.22 196.20 430.44 196.40 429.85 196.60 431.88 196.80 429.04 197.00 429.75 197.20 431.59 197.40 430.64 197.60 431.31 197.80 432.36 198.00 433.00 198.20 432.64 198.40 431.57 198.60 430.85 198.80 431.03 199.00 431.00 199.20 430.83 199.40 430.68 199.60 431.07 199.80 431.93 200.00 430.20 200.20 431.66 200.40 430.69 200.60 430.95 200.80 432.66 201.00 431.57 201.20 429.87 201.40 430.53 201.60 432.25 201.80 432.18 202.00 432.69 202.20 430.12 202.40 429.77 202.60 430.05 202.80 430.45 203.00 430.46 203.20 431.53 203.40 428.52 203.60 429.50 203.80 430.19 204.00 431.13 204.20 429.81 204.40 431.75 204.60 430.10 204.80 428.69 205.00 431.14 205.20 430.65 205.40 429.85 205.60 431.35 205.80 430.19 206.00 430.60 206.20 431.33 206.40 431.04 206.60 432.00 206.80 431.47 207.00 429.09 207.20 431.33 207.40 430.37 207.60 429.25 207.80 431.43 208.00 430.22 208.20 430.36 208.40 430.45 208.60 430.98 208.80 427.41 209.00 428.87 209.20 429.96 209.40 430.52 209.60 429.69 209.80 429.59 210.00 429.81 210.20 430.92 210.40 428.65 210.60 431.02 210.80 428.13 211.00 430.01 211.20 429.38 211.40 432.65 211.60 428.54 211.80 431.82 212.00 430.98 212.20 428.97 212.40 431.43 212.60 429.85 212.80 429.86 213.00 430.55 213.20 430.73 213.40 427.67 213.60 429.43 213.80 429.20 214.00 427.68 214.20 430.25 214.40 429.95 214.60 429.95 214.80 428.60 215.00 431.09 215.20 431.70 215.40 429.71 215.60 431.11 215.80 429.60 216.00 429.95 216.20 429.96 216.40 431.47 216.60 431.19 216.80 427.70 217.00 430.25 217.20 430.00 217.40 431.68 217.60 430.68 217.80 429.78 218.00 430.44 218.20 430.64 218.40 428.67 218.60 431.37 218.80 430.01 219.00 428.43 219.20 432.42 219.40 429.53 219.60 430.44 219.80 430.03 220.00 428.70 220.20 428.86 220.40 430.29 220.60 428.52 220.80 431.83 221.00 428.51 221.20 429.89 221.40 431.48 221.60 431.86 221.80 429.92 222.00 428.91 222.20 431.68 222.40 429.60 222.60 430.99 222.80 429.39 223.00 429.98 223.20 431.16 223.40 430.20 223.60 431.51 223.80 431.68 224.00 431.28 224.20 429.00 224.40 431.22 224.60 430.88 224.80 432.46 225.00 428.90 225.20 430.11 225.40 431.19 225.60 431.23 225.80 429.73 226.00 431.09 226.20 429.38 226.40 430.45 226.60 429.43 226.80 430.80 227.00 429.85 227.20 430.88 227.40 430.19 227.60 431.16 227.80 430.32 228.00 431.50 228.20 429.68 228.40 431.39 228.60 428.10 228.80 429.57 229.00 430.12 229.20 430.45 229.40 429.14 229.60 429.87 229.80 430.30 230.00 429.86 230.20 429.86 230.40 430.59 230.60 429.19 230.80 431.85 231.00 432.16 231.20 430.61 231.40 432.14 231.60 430.01 231.80 430.39 232.00 431.12 232.20 429.21 232.40 429.84 232.60 430.62 232.80 430.87 233.00 429.72 233.20 430.24 233.40 431.10 233.60 432.45 233.80 429.58 234.00 430.51 234.20 431.17 234.40 430.73 234.60 429.50 234.80 430.02 235.00 431.15 235.20 429.33 235.40 428.78 235.60 429.42 235.80 429.85 236.00 428.37 236.20 431.02 236.40 428.82 236.60 430.22 236.80 429.10 237.00 430.12 237.20 430.33 237.40 429.36 237.60 430.09 237.80 430.46 238.00 428.95 238.20 429.03 238.40 428.73 238.60 429.10 238.80 429.60 239.00 429.77 239.20 429.57 239.40 430.45 239.60 431.83 239.80 430.16 240.00 428.94 240.20 429.36 240.40 431.69 240.60 431.61 240.80 431.34 241.00 429.03 241.20 429.85 241.40 429.94 241.60 429.80 241.80 429.59 242.00 429.04 242.20 431.57 242.40 429.25 242.60 429.75 242.80 429.08 243.00 429.76 243.20 431.19 243.40 428.40 243.60 430.17 243.80 429.02 244.00 429.18 244.20 428.84 244.40 430.28 244.60 430.06 244.80 428.29 245.00 431.04 245.20 430.87 245.40 430.17 245.60 430.99 245.80 431.79 246.00 429.59 246.20 428.40 246.40 429.53 246.60 429.31 246.80 430.23 247.00 430.69 247.20 430.77 247.40 430.37 247.60 430.23 247.80 429.69 248.00 430.61 248.20 430.46 248.40 430.78 248.60 429.52 248.80 431.07 249.00 428.47 249.20 431.64 249.40 428.70 249.60 429.93 249.80 431.43 250.00 429.63 250.20 429.20 250.40 430.56 250.60 431.43 250.80 429.51 251.00 430.12 251.20 431.40 251.40 431.10 251.60 431.32 251.80 430.21 252.00 430.42 252.20 429.87 252.40 429.57 252.60 428.51 252.80 430.36 253.00 428.83 253.20 429.62 253.40 431.19 253.60 431.67 253.80 429.28 254.00 428.81 254.20 430.85 254.40 428.09 254.60 429.36 254.80 429.56 255.00 428.23 255.20 430.97 255.40 430.36 255.60 430.36 255.80 430.76 256.00 429.75 256.20 430.55 256.40 429.73 256.60 430.64 256.80 428.81 257.00 429.59 257.20 429.89 257.40 428.48 257.60 429.81 257.80 429.55 258.00 428.88 258.20 430.07 258.40 429.57 258.60 430.10 258.80 430.08 259.00 430.64 259.20 429.41 259.40 429.93 259.60 431.12 259.80 430.07 260.00 431.53 260.20 431.97 260.40 429.34 260.60 431.12 260.80 430.63 261.00 431.51 261.20 430.14 261.40 429.97 261.60 431.30 261.80 430.77 262.00 429.38 262.20 429.99 262.40 430.09 262.60 430.29 262.80 430.61 263.00 430.25 263.20 429.71 263.40 429.32 263.60 428.72 263.80 431.63 264.00 431.36 264.20 429.15 264.40 430.83 264.60 428.66 264.80 430.13 265.00 430.62 265.20 428.63 265.40 428.73 265.60 429.76 265.80 429.37 266.00 428.90 266.20 429.81 266.40 429.48 266.60 430.04 266.80 429.98 267.00 430.14 267.20 429.76 267.40 429.35 267.60 429.75 267.80 430.13 268.00 428.96 268.20 429.62 268.40 428.08 268.60 430.62 268.80 429.89 269.00 428.67 269.20 430.47 269.40 428.15 269.60 429.78 269.80 431.27 270.00 428.40 270.20 430.68 270.40 429.89 270.60 430.09 270.80 430.65 271.00 430.95 271.20 429.28 271.40 429.00 271.60 430.00 271.80 429.66 272.00 432.16 272.20 429.66 272.40 430.95 272.60 429.67 272.80 430.46 273.00 431.23 273.20 431.70 273.40 429.62 273.60 429.54 273.80 430.37 274.00 429.00 274.20 429.79 274.40 429.42 274.60 430.77 274.80 429.05 275.00 430.89 275.20 431.23 275.40 430.29 275.60 430.25 275.80 430.05 276.00 430.06 276.20 430.34 276.40 428.64 276.60 429.61 276.80 427.57 277.00 430.24 277.20 431.32 277.40 428.98 277.60 429.65 277.80 430.73 278.00 430.31 278.20 429.40 278.40 429.71 278.60 430.28 278.80 429.11 279.00 428.19 279.20 429.51 279.40 430.91 279.60 428.96 279.80 429.98 280.00 430.05 280.20 427.76 280.40 427.47 280.60 428.87 280.80 429.45 281.00 430.42 281.20 428.31 281.40 429.62 281.60 429.33 281.80 429.73 282.00 429.50 282.20 429.24 282.40 428.87 282.60 429.14 282.80 430.03 283.00 427.43 283.20 428.61 283.40 430.36 283.60 431.25 283.80 430.36 284.00 430.44 284.20 430.56 284.40 430.28 284.60 428.68 284.80 429.54 285.00 429.30 285.20 430.24 285.40 429.45 285.60 428.91 285.80 428.86 286.00 430.11 286.20 429.85 286.40 430.79 286.60 429.37 286.80 431.46 287.00 429.35 287.20 428.20 287.40 429.91 287.60 428.92 287.80 430.02 288.00 429.85 288.20 430.24 288.40 429.10 288.60 429.05 288.80 431.15 289.00 427.95 289.20 428.38 289.40 428.38 289.60 430.05 289.80 430.80 290.00 430.53 290.20 429.55 290.40 428.06 290.60 427.88 290.80 430.09 291.00 428.26 291.20 430.17 291.40 431.08 291.60 429.91 291.80 430.13 292.00 429.18 292.20 428.82 292.40 428.50 292.60 428.31 292.80 429.10 293.00 431.22 293.20 428.67 293.40 429.77 293.60 429.44 293.80 428.52 294.00 429.06 294.20 429.94 294.40 430.61 294.60 429.87 294.80 428.37 295.00 428.27 295.20 429.47 295.40 429.71 295.60 429.16 295.80 429.20 296.00 430.48 296.20 428.83 296.40 430.22 296.60 431.54 296.80 428.26 297.00 430.91 297.20 429.49 297.40 430.64 297.60 428.30 297.80 428.43 298.00 428.41 298.20 429.15 298.40 428.04 298.60 428.70 298.80 430.26 299.00 428.33 299.20 429.22 299.40 429.46 299.60 429.99 299.80 430.05 300.00 429.50 300.20 428.62 300.40 429.10 300.60 430.55 300.80 431.24 301.00 429.03 301.20 429.13 301.40 430.09 301.60 430.26 301.80 429.62 302.00 429.66 302.20 430.01 302.40 430.11 302.60 429.57 302.80 428.62 303.00 429.13 303.20 428.18 303.40 428.54 303.60 429.61 303.80 429.81 304.00 429.12 304.20 428.21 304.40 428.42 304.60 429.71 304.80 431.10 305.00 429.64 305.20 429.80 305.40 430.67 305.60 430.94 305.80 431.37 306.00 430.32 306.20 431.73 306.40 428.69 306.60 430.13 306.80 427.09 307.00 429.53 307.20 431.41 307.40 428.70 307.60 429.41 307.80 429.06 308.00 428.89 308.20 428.03 308.40 428.62 308.60 430.90 308.80 429.45 309.00 429.18 309.20 430.21 309.40 430.76 309.60 429.00 309.80 429.20 310.00 428.56 310.20 429.66 310.40 429.53 310.60 429.79 310.80 429.22 311.00 429.38 311.20 428.95 311.40 427.90 311.60 428.53 311.80 428.49 312.00 430.89 312.20 429.50 312.40 429.06 312.60 428.93 312.80 430.28 313.00 428.83 313.20 429.40 313.40 428.92 313.60 431.01 313.80 428.09 314.00 429.60 314.20 428.30 314.40 429.63 314.60 429.71 314.80 427.87 315.00 429.56 315.20 428.80 315.40 430.19 315.60 429.26 315.80 430.22 316.00 430.12 316.20 428.56 316.40 428.79 316.60 430.21 316.80 429.83 317.00 430.30 317.20 428.58 317.40 430.33 317.60 428.42 317.80 429.53 318.00 428.62 318.20 430.19 318.40 428.48 318.60 429.18 318.80 429.75 319.00 428.01 319.20 430.48 319.40 429.21 319.60 428.96 319.80 427.73 320.00 430.03 320.20 429.25 320.40 430.21 320.60 427.98 320.80 428.82 321.00 429.43 321.20 429.75 321.40 429.83 321.60 429.14 321.80 428.91 322.00 429.51 322.20 428.85 322.40 431.16 322.60 429.68 322.80 431.24 323.00 429.53 323.20 430.66 323.40 429.09 323.60 428.63 323.80 429.26 324.00 430.16 324.20 428.34 324.40 427.92 324.60 429.52 324.80 428.23 325.00 428.78 325.20 431.30 325.40 429.27 325.60 429.96 325.80 430.54 326.00 428.71 326.20 429.77 326.40 430.79 326.60 428.42 326.80 429.45 327.00 429.94 327.20 428.58 327.40 429.83 327.60 429.55 327.80 429.93 328.00 429.86 328.20 428.35 328.40 428.39 328.60 427.66 328.80 429.64 329.00 429.07 329.20 430.39 329.40 429.65 329.60 429.80 329.80 429.70 330.00 428.63 330.20 428.86 330.40 430.28 330.60 427.65 330.80 431.00 331.00 428.19 331.20 429.89 331.40 429.48 331.60 429.70 331.80 429.86 332.00 428.17 332.20 430.83 332.40 428.39 332.60 430.66 332.80 429.88 333.00 431.01 333.20 427.85 333.40 430.05 333.60 429.37 333.80 430.41 334.00 429.35 334.20 428.41 334.40 428.07 334.60 428.91 334.80 428.88 335.00 429.44 335.20 430.45 335.40 429.31 335.60 429.17 335.80 430.05 336.00 429.24 336.20 429.85 336.40 429.97 336.60 429.70 336.80 429.49 337.00 428.23 337.20 429.36 337.40 428.85 337.60 431.08 337.80 429.22 338.00 429.36 338.20 429.96 338.40 428.41 338.60 428.32 338.80 429.43 339.00 429.56 339.20 428.06 339.40 430.37 339.60 430.42 339.80 431.43 340.00 428.25 340.20 431.04 340.40 430.76 340.60 428.95 340.80 429.77 341.00 428.95 341.20 430.09 341.40 428.45 341.60 428.97 341.80 428.63 342.00 429.07 342.20 429.70 342.40 429.67 342.60 428.53 342.80 429.77 343.00 428.73 343.20 429.44 343.40 428.75 343.60 430.14 343.80 430.59 344.00 429.15 344.20 429.09 344.40 429.80 344.60 427.18 344.80 428.33 345.00 428.15 345.20 429.04 345.40 429.01 345.60 429.12 345.80 431.09 346.00 430.94 346.20 429.50 346.40 427.99 346.60 429.52 346.80 429.07 347.00 428.75 347.20 429.39 347.40 429.87 347.60 429.78 347.80 429.94 348.00 429.53 348.20 430.39 348.40 430.32 348.60 429.18 348.80 429.48 349.00 428.23 349.20 429.91 349.40 430.37 349.60 428.92 349.80 428.94 350.00 429.79 350.20 429.42 350.40 428.80 350.60 427.73 350.80 427.78 351.00 428.07 351.20 429.55 351.40 428.67 351.60 429.69 351.80 429.91 352.00 430.92 352.20 429.43 352.40 428.57 352.60 429.99 352.80 428.97 353.00 430.63 353.20 429.59 353.40 427.81 353.60 428.78 353.80 428.74 354.00 428.39 354.20 428.76 354.40 429.91 354.60 429.36 354.80 431.02 355.00 428.46 355.20 430.16 355.40 429.36 355.60 431.23 355.80 428.17 356.00 427.94 356.20 428.86 356.40 429.96 356.60 429.99 356.80 430.30 357.00 428.88 357.20 429.41 357.40 428.19 357.60 430.80 357.80 428.66 358.00 429.41 358.20 429.98 358.40 430.82 358.60 429.10 358.80 429.01 359.00 428.55 359.20 429.88 359.40 428.92 359.60 429.80 359.80 429.13 360.00 428.85 360.20 428.17 360.40 428.89 360.60 428.77 360.80 429.37 361.00 429.75 361.20 429.28 361.40 429.18 361.60 429.16 361.80 430.06 362.00 429.55 362.20 428.14 362.40 429.67 362.60 429.66 362.80 427.46 363.00 429.09 363.20 430.68 363.40 428.53 363.60 429.63 363.80 430.12 364.00 430.66 364.20 428.35 364.40 429.60 364.60 429.53 364.80 431.41 365.00 430.75 365.20 429.10 365.40 429.70 365.60 428.86 365.80 428.55 366.00 430.08 366.20 429.31 366.40 430.07 366.60 428.58 366.80 431.30 367.00 429.08 367.20 428.50 367.40 429.84 367.60 427.63 367.80 428.41 368.00 428.39 368.20 428.87 368.40 428.90 368.60 429.85 368.80 427.88 369.00 428.21 369.20 429.83 369.40 428.57 369.60 427.67 369.80 429.24 370.00 427.16 370.20 428.64 370.40 429.58 370.60 429.50 370.80 428.44 371.00 429.53 371.20 429.81 371.40 427.80 371.60 428.86 371.80 429.77 372.00 429.48 372.20 428.12 372.40 428.14 372.60 428.92 372.80 429.69 373.00 428.42 373.20 428.93 373.40 430.16 373.60 428.80 373.80 428.34 374.00 429.16 374.20 427.85 374.40 428.07 374.60 429.27 374.80 428.06 375.00 429.29 375.20 428.62 375.40 430.54 375.60 428.67 375.80 428.07 376.00 429.97 376.20 428.70 376.40 430.99 376.60 429.44 376.80 430.09 377.00 429.39 377.20 429.45 377.40 429.40 377.60 430.06 377.80 429.62 378.00 428.38 378.20 428.71 378.40 430.56 378.60 428.92 378.80 429.44 379.00 428.86 379.20 429.39 379.40 428.97 379.60 430.66 379.80 428.47 380.00 430.33 380.20 428.74 380.40 430.28 380.60 429.10 380.80 431.31 381.00 430.84 381.20 429.63 381.40 429.22 381.60 428.79 381.80 427.82 382.00 429.02 382.20 428.74 382.40 428.36 382.60 430.38 382.80 428.20 383.00 427.62 383.20 429.31 383.40 428.78 383.60 429.72 383.80 428.39 384.00 430.69 384.20 430.76 384.40 428.08 384.60 428.36 384.80 428.16 385.00 427.41 385.20 430.05 385.40 429.37 385.60 428.23 385.80 429.13 386.00 428.85 386.20 430.05 386.40 428.64 386.60 429.51 386.80 428.11 387.00 428.29 387.20 428.97 387.40 429.02 387.60 429.30 387.80 428.75 388.00 427.94 388.20 430.74 388.40 429.51 388.60 428.70 388.80 428.71 389.00 429.63 389.20 428.23 389.40 427.65 389.60 429.16 389.80 427.80 390.00 428.76 390.20 430.12 390.40 429.92 390.60 429.10 390.80 428.93 391.00 428.46 391.20 430.37 391.40 428.94 391.60 427.21 391.80 428.17 392.00 427.89 392.20 428.26 392.40 429.99 392.60 430.74 392.80 428.43 393.00 429.17 393.20 429.56 393.40 430.48 393.60 430.06 393.80 428.55 394.00 428.63 394.20 429.64 394.40 430.13 394.60 429.06 394.80 429.91 395.00 428.17 395.20 430.06 395.40 430.83 395.60 429.89 395.80 430.10 396.00 430.09 396.20 429.63 396.40 429.78 396.60 431.07 396.80 429.55 397.00 428.76 397.20 428.75 397.40 428.19 397.60 428.69 397.80 429.26 398.00 428.71 398.20 428.00 398.40 428.07 398.60 428.98 398.80 427.37 399.00 428.79 399.20 429.01 399.40 429.24 399.60 427.97 399.80 428.38 400.00 429.32 400.20 429.92 400.40 428.46 400.60 427.58 400.80 429.25 401.00 427.86 401.20 429.22 401.40 428.56 401.60 428.52 401.80 427.07 402.00 429.41 402.20 428.66 402.40 429.19 402.60 427.70 402.80 428.31 403.00 427.57 403.20 428.94 403.40 431.07 403.60 428.47 403.80 428.60 404.00 429.43 404.20 428.89 404.40 430.50 404.60 428.21 404.80 430.14 405.00 430.64 405.20 430.25 405.40 428.64 405.60 429.50 405.80 428.58 406.00 429.39 406.20 430.30 406.40 430.06 406.60 428.91 406.80 427.78 407.00 429.55 407.20 428.65 407.40 428.55 407.60 428.84 407.80 428.14 408.00 429.49 408.20 430.91 408.40 428.28 408.60 428.22 408.80 429.14 409.00 428.37 409.20 428.82 409.40 429.02 409.60 427.84 409.80 428.93 410.00 428.96 410.20 428.81 410.40 428.88 410.60 428.26 410.80 430.04 411.00 429.79 411.20 430.63 411.40 430.53 411.60 428.22 411.80 429.01 412.00 428.35 412.20 428.27 412.40 428.09 412.60 431.22 412.80 429.05 413.00 430.78 413.20 427.70 413.40 428.33 413.60 430.09 413.80 428.10 414.00 428.87 414.20 429.22 414.40 430.27 414.60 430.41 414.80 429.89 415.00 428.04 415.20 429.90 415.40 428.29 415.60 428.82 415.80 428.99 416.00 428.35" stroke="#555" stroke-width="0.45" fill="none" stroke-linejoin="round"/>
<path d="M109.30 434.64L111.00 422.16L111.50 422.16L113.10 434.64z" fill="#d3e4f8"/>
<path d="M109.50 431.34L110.60 400.80L112.20 431.34" stroke="#8c8c8c" stroke-width="0.4" fill="none"/>
<line x1="110.90" y1="400.80" x2="111.20" y2="418.00" stroke="#b0adb0" stroke-width="1.75"/>
<line x1="111.20" y1="418.00" x2="111.36" y2="428.34" stroke="#5a8bd6" stroke-width="1.0"/>
<line x1="111.36" y1="428.34" x2="111.45" y2="434.64" stroke="#8fbbef" stroke-width="1.3"/>
<circle cx="111.20" cy="418.00" r="0.95" fill="#3d7fe0"/>
<circle cx="110.90" cy="400.80" r="1.1" fill="#f03c48"/>
<text transform="translate(111.00 397.60) rotate(-90)" textLength="17.6" lengthAdjust="spacingAndGlyphs" font-family='"Liberation Sans", sans-serif' font-size="5.2" fill="#f06a76">d=4.7199</text>
<path d="M170.30 434.75L172.00 412.81L172.50 412.81L174.10 434.75z" fill="#d3e4f8"/>
<path d="M170.50 431.45L171.60 383.20L173.20 431.45" stroke="#8c8c8c" stroke-width="0.4" fill="none"/>
<line x1="171.90" y1="383.20" x2="172.20" y2="405.50" stroke="#b0adb0" stroke-width="1.75"/>
<line x1="172.20" y1="405.50" x2="172.54" y2="428.45" stroke="#5a8bd6" stroke-width="1.0"/>
<line x1="172.54" y1="428.45" x2="172.64" y2="434.75" stroke="#8fbbef" stroke-width="1.3"/>
<circle cx="172.20" cy="405.50" r="0.95" fill="#3d7fe0"/>
<circle cx="171.90" cy="383.20" r="1.1" fill="#f03c48"/>
<text transform="translate(172.00 380.90) rotate(-90)" textLength="18.0" lengthAdjust="spacingAndGlyphs" font-family='"Liberation Sans", sans-serif' font-size="5.2" fill="#f06a76">d=2.8956</text>
<path d="M197.30 434.57L199.00 374.44L199.50 374.44L201.10 434.57z" fill="#d3e4f8"/>
<path d="M197.50 431.27L197.30 277.60L200.20 431.27" stroke="#8c8c8c" stroke-width="0.4" fill="none"/>
<line x1="197.60" y1="277.60" x2="199.20" y2="354.40" stroke="#b0adb0" stroke-width="1.75"/>
<line x1="199.20" y1="354.40" x2="200.31" y2="428.27" stroke="#5a8bd6" stroke-width="1.0"/>
<line x1="200.31" y1="428.27" x2="200.40" y2="434.57" stroke="#8fbbef" stroke-width="1.3"/>
<circle cx="199.20" cy="354.40" r="0.95" fill="#3d7fe0"/>
<circle cx="197.60" cy="277.60" r="1.1" fill="#f03c48"/>
<text transform="translate(197.70 275.00) rotate(-90)" textLength="17.9" lengthAdjust="spacingAndGlyphs" font-family='"Liberation Sans", sans-serif' font-size="5.2" fill="#f06a76">d=2.4863</text>
<path d="M207.30 434.49L209.00 426.02L209.50 426.02L211.10 434.49z" fill="#d3e4f8"/>
<path d="M207.50 431.19L208.60 413.00L210.20 431.19" stroke="#8c8c8c" stroke-width="0.4" fill="none"/>
<line x1="208.90" y1="413.00" x2="209.20" y2="423.20" stroke="#b0adb0" stroke-width="1.75"/>
<line x1="209.20" y1="423.20" x2="209.27" y2="428.19" stroke="#5a8bd6" stroke-width="1.0"/>
<line x1="209.27" y1="428.19" x2="209.37" y2="434.49" stroke="#8fbbef" stroke-width="1.3"/>
<circle cx="209.20" cy="423.20" r="0.95" fill="#3d7fe0"/>
<circle cx="208.90" cy="413.00" r="1.1" fill="#f03c48"/>
<text transform="translate(209.00 411.00) rotate(-90)" textLength="18.1" lengthAdjust="spacingAndGlyphs" font-family='"Liberation Sans", sans-serif' font-size="5.2" fill="#f06a76">d=2.3465</text>
<path d="M237.80 434.28L239.50 420.57L240.00 420.57L241.60 434.28z" fill="#d3e4f8"/>
<path d="M238.00 430.98L239.10 395.80L240.70 430.98" stroke="#8c8c8c" stroke-width="0.4" fill="none"/>
<line x1="239.40" y1="395.80" x2="239.70" y2="416.00" stroke="#b0adb0" stroke-width="1.75"/>
<line x1="239.70" y1="416.00" x2="239.88" y2="427.98" stroke="#5a8bd6" stroke-width="1.0"/>
<line x1="239.88" y1="427.98" x2="239.97" y2="434.28" stroke="#8fbbef" stroke-width="1.3"/>
<circle cx="239.70" cy="416.00" r="0.95" fill="#3d7fe0"/>
<circle cx="239.40" cy="395.80" r="1.1" fill="#f03c48"/>
<text transform="translate(239.50 393.70) rotate(-90)" textLength="17.7" lengthAdjust="spacingAndGlyphs" font-family='"Liberation Sans", sans-serif' font-size="5.2" fill="#f06a76">d=2.0383</text>
<path d="M292.20 433.91L293.90 425.73L294.40 425.73L296.00 433.91z" fill="#d3e4f8"/>
<path d="M292.40 430.61L293.50 416.20L295.10 430.61" stroke="#8c8c8c" stroke-width="0.4" fill="none"/>
<line x1="293.80" y1="416.20" x2="294.10" y2="423.00" stroke="#b0adb0" stroke-width="1.75"/>
<line x1="294.10" y1="423.00" x2="294.17" y2="427.61" stroke="#5a8bd6" stroke-width="0.9"/>
<line x1="294.17" y1="427.61" x2="294.26" y2="433.91" stroke="#8fbbef" stroke-width="1.3"/>
<circle cx="294.10" cy="423.00" r="0.95" fill="#3d7fe0"/>
<path d="M310.30 433.79L312.00 413.40L312.50 413.40L314.10 433.79z" fill="#d3e4f8"/>
<path d="M310.50 430.49L311.60 383.20L313.20 430.49" stroke="#8c8c8c" stroke-width="0.4" fill="none"/>
<line x1="311.90" y1="383.20" x2="312.20" y2="406.60" stroke="#b0adb0" stroke-width="1.75"/>
<line x1="312.20" y1="406.60" x2="312.51" y2="427.49" stroke="#5a8bd6" stroke-width="1.0"/>
<line x1="312.51" y1="427.49" x2="312.61" y2="433.79" stroke="#8fbbef" stroke-width="1.3"/>
<circle cx="312.20" cy="406.60" r="0.95" fill="#3d7fe0"/>
<circle cx="311.90" cy="383.20" r="1.1" fill="#f03c48"/>
<text transform="translate(312.00 380.90) rotate(-90)" textLength="16.8" lengthAdjust="spacingAndGlyphs" font-family='"Liberation Sans", sans-serif' font-size="5.2" fill="#f06a76">d=1.5665</text>
<path d="M339.50 433.60L341.20 410.35L341.70 410.35L343.30 433.60z" fill="#d3e4f8"/>
<path d="M339.70 430.30L340.80 382.10L342.40 430.30" stroke="#8c8c8c" stroke-width="0.4" fill="none"/>
<line x1="341.10" y1="382.10" x2="341.40" y2="402.60" stroke="#b0adb0" stroke-width="1.75"/>
<line x1="341.40" y1="402.60" x2="341.77" y2="427.30" stroke="#5a8bd6" stroke-width="1.0"/>
<line x1="341.77" y1="427.30" x2="341.86" y2="433.60" stroke="#8fbbef" stroke-width="1.3"/>
<circle cx="341.40" cy="402.60" r="0.95" fill="#3d7fe0"/>
<circle cx="341.10" cy="382.10" r="1.1" fill="#f03c48"/>
<text transform="translate(341.20 379.30) rotate(-90)" textLength="17.2" lengthAdjust="spacingAndGlyphs" font-family='"Liberation Sans", sans-serif' font-size="5.2" fill="#f06a76">d=1.4368</text>
<path d="M357.50 433.48L359.20 428.62L359.70 428.62L361.30 433.48z" fill="#d3e4f8"/>
<path d="M357.70 430.18L358.80 425.50L360.40 430.18" stroke="#8c8c8c" stroke-width="0.4" fill="none"/>
<line x1="359.10" y1="425.50" x2="359.40" y2="427.00" stroke="#b0adb0" stroke-width="1.75"/>
<line x1="359.40" y1="427.00" x2="359.40" y2="427.18" stroke="#5a8bd6" stroke-width="0.9"/>
<line x1="359.40" y1="427.18" x2="359.50" y2="433.48" stroke="#8fbbef" stroke-width="1.3"/>
<circle cx="359.40" cy="427.00" r="0.95" fill="#3d7fe0"/>
<path d="M384.70 433.30L386.40 427.75L386.90 427.75L388.50 433.30z" fill="#d3e4f8"/>
<path d="M384.90 430.00L386.00 424.50L387.60 430.00" stroke="#8c8c8c" stroke-width="0.4" fill="none"/>
<line x1="386.30" y1="424.50" x2="386.60" y2="425.90" stroke="#b0adb0" stroke-width="1.75"/>
<line x1="386.60" y1="425.90" x2="386.62" y2="427.00" stroke="#5a8bd6" stroke-width="0.9"/>
<line x1="386.62" y1="427.00" x2="386.71" y2="433.30" stroke="#8fbbef" stroke-width="1.3"/>
<circle cx="386.60" cy="425.90" r="0.95" fill="#3d7fe0"/>
<path d="M400.40 433.19L402.10 425.10L402.60 425.10L404.20 433.19z" fill="#d3e4f8"/>
<path d="M400.60 429.89L401.70 417.40L403.30 429.89" stroke="#8c8c8c" stroke-width="0.4" fill="none"/>
<line x1="402.00" y1="417.40" x2="402.30" y2="422.40" stroke="#b0adb0" stroke-width="1.75"/>
<line x1="402.30" y1="422.40" x2="402.37" y2="426.89" stroke="#5a8bd6" stroke-width="0.9"/>
<line x1="402.37" y1="426.89" x2="402.46" y2="433.19" stroke="#8fbbef" stroke-width="1.3"/>
<circle cx="402.30" cy="422.40" r="0.95" fill="#3d7fe0"/>
<path d="M406.40 433.15L408.10 426.89L408.60 426.89L410.20 433.15z" fill="#d3e4f8"/>
<path d="M406.60 429.85L407.70 424.10L409.30 429.85" stroke="#8c8c8c" stroke-width="0.4" fill="none"/>
<line x1="408.00" y1="424.10" x2="408.30" y2="424.80" stroke="#b0adb0" stroke-width="1.75"/>
<line x1="408.30" y1="424.80" x2="408.33" y2="426.85" stroke="#5a8bd6" stroke-width="0.9"/>
<line x1="408.33" y1="426.85" x2="408.43" y2="433.15" stroke="#8fbbef" stroke-width="1.3"/>
<circle cx="408.30" cy="424.80" r="0.95" fill="#3d7fe0"/>
<circle cx="313.00" cy="401.80" r="1.1" fill="#f03c48"/>
<text transform="translate(311.30 399.50) rotate(-90)" textLength="17.2" lengthAdjust="spacingAndGlyphs" font-family='"Liberation Sans", sans-serif' font-size="5.2" fill="#f06a76">d=1.5703</text>
<path d="M34.33 668.02h1.0M34.29 665.64h1.0M34.26 663.26h1.0M34.22 660.88h1.0M33.19 658.50h2.0M34.16 656.12h1.0M34.12 653.74h1.0M34.09 651.36h1.0M34.06 648.98h1.0M33.99 644.01h1.0M33.95 641.42h1.0M33.91 638.83h1.0M33.88 636.24h1.0M32.84 633.65h2.0M33.80 631.06h1.0M33.77 628.47h1.0M33.73 625.88h1.0M33.69 623.29h1.0M33.62 618.07h1.0M33.58 615.44h1.0M33.55 612.81h1.0M33.51 610.18h1.0M32.47 607.55h2.0M33.44 604.92h1.0M33.40 602.29h1.0M33.36 599.66h1.0M33.32 597.03h1.0M33.25 591.90h1.0M33.22 589.40h1.0M33.18 586.90h1.0M33.15 584.40h1.0M32.11 581.90h2.0M33.08 579.40h1.0M33.04 576.90h1.0M33.01 574.40h1.0M32.97 571.90h1.0M32.90 566.78h1.0M32.86 564.16h1.0M32.82 561.54h1.0M32.79 558.92h1.0M31.75 556.30h2.0M32.71 553.68h1.0M32.68 551.06h1.0M32.64 548.44h1.0M32.60 545.82h1.0M32.53 540.75h1.0M32.50 538.30h1.0M32.46 535.85h1.0M32.43 533.40h1.0M31.39 530.95h2.0M32.36 528.50h1.0M32.32 526.05h1.0M32.29 523.60h1.0M32.25 521.15h1.0M32.18 515.95h1.0M32.14 513.20h1.0M32.10 510.45h1.0M32.07 507.70h1.0M31.03 504.95h2.0M31.99 502.20h1.0M31.95 499.45h1.0M31.91 496.70h1.0M31.87 493.95h1.0M31.79 488.45h1.0M31.76 485.70h1.0M31.72 482.95h1.0M31.68 480.20h1.0M30.64 477.45h2.0" stroke="#9a9a9a" stroke-width="0.45" fill="none"/>
<path d="M32.16 670.40h3.2M31.82 646.60h3.2M31.46 620.70h3.2M31.09 594.40h3.2M30.74 569.40h3.2M30.37 543.20h3.2M30.02 518.70h3.2M29.63 491.20h3.2" stroke="#b0b0b0" stroke-width="0.6" fill="none"/>
<path d="M35.45 673.30v0.90M40.46 673.23v1.40M45.47 673.17v0.90M50.47 673.10v0.90M55.48 673.04v0.90M60.49 672.97v0.90M65.50 672.90v2.50M70.51 672.84v0.90M75.52 672.77v0.90M80.53 672.71v0.90M85.53 672.64v0.90M90.54 672.58v1.40M95.55 672.51v0.90M100.56 672.44v0.90M105.57 672.38v0.90M110.58 672.31v0.90M115.59 672.25v2.50M120.59 672.18v0.90M125.60 672.11v0.90M130.61 672.05v0.90M135.62 671.98v0.90M140.63 671.92v1.40M145.64 671.85v0.90M150.65 671.79v0.90M155.65 671.72v0.90M160.66 671.65v0.90M165.67 671.59v2.50M170.68 671.52v0.90M175.69 671.46v0.90M180.70 671.39v0.90M185.71 671.32v0.90M190.71 671.26v1.40M195.72 671.19v0.90M200.73 671.13v0.90M205.74 671.06v0.90M210.75 671.00v0.90M215.76 670.93v2.50M220.77 670.86v0.90M225.77 670.80v0.90M230.78 670.73v0.90M235.79 670.67v0.90M240.80 670.60v1.40M245.81 670.53v0.90M250.82 670.47v0.90M255.83 670.40v0.90M260.83 670.34v0.90M265.84 670.27v2.50M270.85 670.21v0.90M275.86 670.14v0.90M280.87 670.07v0.90M285.88 670.01v0.90M290.89 669.94v1.40M295.89 669.88v0.90M300.90 669.81v0.90M305.91 669.74v0.90M310.92 669.68v0.90M315.93 669.61v2.50M320.94 669.55v0.90M325.95 669.48v0.90M330.95 669.42v0.90M335.96 669.35v0.90M340.97 669.28v1.40M345.98 669.22v0.90M350.99 669.15v0.90M356.00 669.09v0.90M361.01 669.02v0.90M366.01 668.95v2.50M371.02 668.89v0.90M376.03 668.82v0.90M381.04 668.76v0.90M386.05 668.69v0.90M391.06 668.63v1.40M396.07 668.56v0.90M401.07 668.49v0.90M406.08 668.43v0.90M411.09 668.36v0.90M416.10 668.30v2.50" stroke="#c4c4c4" stroke-width="0.6" fill="none"/>
<line x1="32.6" y1="474.7" x2="35.4" y2="673.3" stroke="#c2c2c2" stroke-width="0.7"/>
<line x1="35.4" y1="673.3" x2="415.8" y2="668.3" stroke="#c8c8c8" stroke-width="0.8"/>
<path d="M32.40 473.70l1.6 2.6l-1.8 0.6z" fill="#555"/>
<text transform="translate(24.30 494.50) scale(0.88 1)" text-anchor="end" font-family='"Liberation Sans", sans-serif' font-size="9.4" fill="#2a2a2a" stroke="#2a2a2a" stroke-width="0.22">70</text>
<text transform="translate(24.37 522.00) scale(0.88 1)" text-anchor="end" font-family='"Liberation Sans", sans-serif' font-size="9.4" fill="#2a2a2a" stroke="#2a2a2a" stroke-width="0.22">60</text>
<text transform="translate(24.44 546.50) scale(0.88 1)" text-anchor="end" font-family='"Liberation Sans", sans-serif' font-size="9.4" fill="#2a2a2a" stroke="#2a2a2a" stroke-width="0.22">50</text>
<text transform="translate(24.51 572.70) scale(0.88 1)" text-anchor="end" font-family='"Liberation Sans", sans-serif' font-size="9.4" fill="#2a2a2a" stroke="#2a2a2a" stroke-width="0.22">40</text>
<text transform="translate(24.59 597.70) scale(0.88 1)" text-anchor="end" font-family='"Liberation Sans", sans-serif' font-size="9.4" fill="#2a2a2a" stroke="#2a2a2a" stroke-width="0.22">30</text>
<text transform="translate(24.66 624.00) scale(0.88 1)" text-anchor="end" font-family='"Liberation Sans", sans-serif' font-size="9.4" fill="#2a2a2a" stroke="#2a2a2a" stroke-width="0.22">20</text>
<text transform="translate(24.73 649.90) scale(0.88 1)" text-anchor="end" font-family='"Liberation Sans", sans-serif' font-size="9.4" fill="#2a2a2a" stroke="#2a2a2a" stroke-width="0.22">10</text>
<text transform="translate(24.80 673.70) scale(0.88 1)" text-anchor="end" font-family='"Liberation Sans", sans-serif' font-size="9.4" fill="#2a2a2a" stroke="#2a2a2a" stroke-width="0.22">0</text>
<text transform="translate(34.40 684.80) scale(0.88 1)" text-anchor="middle" font-family='"Liberation Sans", sans-serif' font-size="9.4" fill="#2a2a2a" stroke="#2a2a2a" stroke-width="0.22">4</text>
<text transform="translate(65.50 684.80) scale(0.88 1)" text-anchor="middle" font-family='"Liberation Sans", sans-serif' font-size="9.4" fill="#2a2a2a" stroke="#2a2a2a" stroke-width="0.22">10</text>
<text transform="translate(114.60 684.80) scale(0.88 1)" text-anchor="middle" font-family='"Liberation Sans", sans-serif' font-size="9.4" fill="#2a2a2a" stroke="#2a2a2a" stroke-width="0.22">20</text>
<text transform="translate(166.60 684.30) scale(0.88 1)" text-anchor="middle" font-family='"Liberation Sans", sans-serif' font-size="9.4" fill="#2a2a2a" stroke="#2a2a2a" stroke-width="0.22">30</text>
<text transform="translate(216.00 684.30) scale(0.88 1)" text-anchor="middle" font-family='"Liberation Sans", sans-serif' font-size="9.4" fill="#2a2a2a" stroke="#2a2a2a" stroke-width="0.22">40</text>
<text transform="translate(265.20 682.90) scale(0.88 1)" text-anchor="middle" font-family='"Liberation Sans", sans-serif' font-size="9.4" fill="#2a2a2a" stroke="#2a2a2a" stroke-width="0.22">50</text>
<text transform="translate(316.00 682.40) scale(0.88 1)" text-anchor="middle" font-family='"Liberation Sans", sans-serif' font-size="9.4" fill="#2a2a2a" stroke="#2a2a2a" stroke-width="0.22">60</text>
<text transform="translate(365.30 681.50) scale(0.88 1)" text-anchor="middle" font-family='"Liberation Sans", sans-serif' font-size="9.4" fill="#2a2a2a" stroke="#2a2a2a" stroke-width="0.22">70</text>
<text transform="translate(416.10 680.50) scale(0.88 1)" text-anchor="middle" font-family='"Liberation Sans", sans-serif' font-size="9.4" fill="#2a2a2a" stroke="#2a2a2a" stroke-width="0.22">80</text>
<text x="220.20" y="698.00" text-anchor="middle" font-family='"Liberation Sans", sans-serif' font-weight="bold" font-size="9.9" fill="#111">2 Theta (degree)</text>
<text transform="translate(8.30 581.30) rotate(-90)" text-anchor="middle" font-family='"Liberation Sans", sans-serif' font-weight="bold" font-size="9.95" fill="#111">Lin (cps)</text>
<text x="66.20" y="496.10" text-anchor="middle" font-family='"Liberation Sans", sans-serif' font-weight="bold" font-size="12.2" fill="#111">(c)</text>
<text x="48.80" y="513.20" font-family='"Liberation Serif", serif' font-size="11.2" fill="#1a1a1a" stroke="#1a1a1a" stroke-width="0.15" word-spacing="0"><tspan font-style="italic">f</tspan><tspan dx="1.0"> = 1000 kHz</tspan></text>
<path d="M36.00 660.18 36.20 662.59 36.40 666.67 36.60 667.79 36.80 663.01 37.00 670.43 37.20 664.06 37.40 665.56 37.60 669.07 37.80 663.78 38.00 670.53 38.20 666.89 38.40 667.42 38.60 661.83 38.80 660.90 39.00 664.07 39.20 666.54 39.40 664.09 39.60 665.84 39.80 669.43 40.00 665.58 40.20 667.40 40.40 665.17 40.60 660.74 40.80 663.50 41.00 661.93 41.20 660.00 41.40 661.36 41.60 660.72 41.80 663.74 42.00 667.40 42.20 663.15 42.40 667.81 42.60 669.16 42.80 665.44 43.00 663.93 43.20 669.64 43.40 668.35 43.60 666.00 43.80 669.66 44.00 667.85 44.20 662.26 44.40 668.62 44.60 665.81 44.80 664.00 45.00 661.52 45.20 661.90 45.40 663.67 45.60 664.65 45.80 666.89 46.00 665.44 46.20 665.20 46.40 665.02 46.60 665.88 46.80 668.01 47.00 667.83 47.20 665.74 47.40 664.61 47.60 666.10 47.80 665.25 48.00 665.83 48.20 665.09 48.40 664.50 48.60 667.68 48.80 666.35 49.00 665.01 49.20 665.06 49.40 666.49 49.60 665.62 49.80 666.03 50.00 665.35 50.20 667.15 50.40 665.27 50.60 664.65 50.80 668.35 51.00 666.97 51.20 666.13 51.40 666.26 51.60 665.27 51.80 665.43 52.00 668.15 52.20 666.08 52.40 663.85 52.60 666.48 52.80 665.92 53.00 664.74 53.20 667.32 53.40 662.10 53.60 666.45 53.80 664.61 54.00 667.80 54.20 666.54 54.40 669.54 54.60 664.73 54.80 664.90 55.00 665.36 55.20 666.63 55.40 666.46 55.60 666.70 55.80 669.43 56.00 667.41 56.20 663.97 56.40 670.27 56.60 667.95 56.80 666.33 57.00 666.19 57.20 667.01 57.40 668.95 57.60 670.52 57.80 666.18 58.00 665.71 58.20 666.81 58.40 664.71 58.60 665.65 58.80 667.39 59.00 668.81 59.20 666.17 59.40 668.21 59.60 666.58 59.80 666.70 60.00 665.99 60.20 663.80 60.40 668.14 60.60 666.53 60.80 668.97 61.00 669.58 61.20 667.66 61.40 668.11 61.60 664.75 61.80 669.82 62.00 664.71 62.20 665.93 62.40 664.75 62.60 664.10 62.80 667.14 63.00 668.49 63.20 667.30 63.40 665.62 63.60 665.43 63.80 667.14 64.00 668.33 64.20 666.14 64.40 668.77 64.60 663.47 64.80 666.65 65.00 667.27 65.20 666.76 65.40 668.42 65.60 665.91 65.80 667.70 66.00 667.24 66.20 668.64 66.40 666.75 66.60 664.45 66.80 666.00 67.00 666.47 67.20 668.43 67.40 670.61 67.60 666.90 67.80 668.69 68.00 669.33 68.20 666.56 68.40 667.49 68.60 665.97 68.80 665.43 69.00 668.74 69.20 665.86 69.40 666.47 69.60 665.55 69.80 669.00 70.00 667.38 70.20 666.50 70.40 665.86 70.60 666.51 70.80 665.67 71.00 666.07 71.20 665.16 71.40 664.26 71.60 667.25 71.80 667.67 72.00 666.35 72.20 666.52 72.40 667.99 72.60 666.07 72.80 663.54 73.00 668.03 73.20 664.83 73.40 668.26 73.60 666.76 73.80 666.37 74.00 664.18 74.20 665.28 74.40 666.28 74.60 667.45 74.80 667.76 75.00 667.98 75.20 666.92 75.40 665.13 75.60 667.00 75.80 663.68 76.00 667.62 76.20 665.76 76.40 666.30 76.60 666.53 76.80 668.08 77.00 666.60 77.20 666.32 77.40 666.46 77.60 664.79 77.80 667.93 78.00 667.58 78.20 667.64 78.40 670.13 78.60 666.20 78.80 667.22 79.00 668.49 79.20 666.81 79.40 665.71 79.60 666.20 79.80 667.60 80.00 665.73 80.20 666.41 80.40 668.22 80.60 665.63 80.80 669.32 81.00 667.97 81.20 669.90 81.40 665.38 81.60 667.80 81.80 665.58 82.00 667.63 82.20 666.76 82.40 667.04 82.60 666.54 82.80 666.91 83.00 667.09 83.20 666.48 83.40 667.98 83.60 667.97 83.80 663.92 84.00 667.20 84.20 667.78 84.40 664.20 84.60 667.05 84.80 666.25 85.00 665.58 85.20 667.91 85.40 668.09 85.60 664.39 85.80 665.15 86.00 669.45 86.20 665.39 86.40 666.86 86.60 664.15 86.80 665.30 87.00 666.14 87.20 663.47 87.40 667.25 87.60 666.39 87.80 666.07 88.00 666.97 88.20 665.65 88.40 665.66 88.60 667.96 88.80 665.74 89.00 666.95 89.20 667.63 89.40 663.14 89.60 664.65 89.80 666.54 90.00 665.86 90.20 666.06 90.40 665.39 90.60 667.51 90.80 665.89 91.00 667.41 91.20 666.42 91.40 666.13 91.60 666.02 91.80 666.54 92.00 664.66 92.20 665.13 92.40 665.35 92.60 665.62 92.80 665.23 93.00 666.33 93.20 666.77 93.40 666.50 93.60 665.82 93.80 665.63 94.00 663.85 94.20 667.09 94.40 667.50 94.60 665.98 94.80 667.06 95.00 665.73 95.20 665.65 95.40 665.43 95.60 664.55 95.80 665.84 96.00 666.10 96.20 664.58 96.40 665.71 96.60 667.39 96.80 665.20 97.00 668.03 97.20 666.42 97.40 663.78 97.60 665.45 97.80 667.26 98.00 666.95 98.20 667.36 98.40 665.96 98.60 665.63 98.80 665.39 99.00 665.62 99.20 668.65 99.40 669.12 99.60 667.54 99.80 668.10 100.00 665.59 100.20 666.64 100.40 666.18 100.60 666.57 100.80 669.07 101.00 666.86 101.20 665.99 101.40 665.24 101.60 667.92 101.80 667.26 102.00 666.92 102.20 668.20 102.40 667.97 102.60 668.21 102.80 664.86 103.00 667.46 103.20 666.39 103.40 667.18 103.60 668.23 103.80 669.56 104.00 668.68 104.20 664.56 104.40 666.60 104.60 666.04 104.80 666.79 105.00 666.51 105.20 665.95 105.40 667.47 105.60 668.14 105.80 666.64 106.00 666.51 106.20 668.19 106.40 666.89 106.60 669.13 106.80 669.23 107.00 666.93 107.20 669.03 107.40 668.04 107.60 664.92 107.80 666.79 108.00 667.16 108.20 667.80 108.40 665.45 108.60 667.94 108.80 668.63 109.00 666.00 109.20 666.95 109.40 668.73 109.60 669.50 109.80 666.78 110.00 666.10 110.20 669.27 110.40 667.42 110.60 667.51 110.80 666.08 111.00 665.91 111.20 667.25 111.40 665.39 111.60 666.27 111.80 669.33 112.00 668.98 112.20 667.25 112.40 667.61 112.60 666.39 112.80 668.57 113.00 666.63 113.20 669.25 113.40 669.03 113.60 666.91 113.80 665.76 114.00 668.45 114.20 668.25 114.40 665.20 114.60 669.59 114.80 667.82 115.00 665.54 115.20 670.09 115.40 666.19 115.60 664.86 115.80 669.62 116.00 667.76 116.20 668.30 116.40 666.92 116.60 667.94 116.80 665.33 117.00 668.52 117.20 667.16 117.40 667.45 117.60 667.03 117.80 667.13 118.00 668.22 118.20 667.21 118.40 666.17 118.60 666.57 118.80 664.62 119.00 664.28 119.20 668.59 119.40 669.46 119.60 663.84 119.80 665.77 120.00 666.46 120.20 667.52 120.40 665.94 120.60 668.12 120.80 665.47 121.00 664.13 121.20 667.63 121.40 666.51 121.60 667.32 121.80 667.32 122.00 669.19 122.20 666.21 122.40 666.42 122.60 667.24 122.80 668.42 123.00 665.72 123.20 666.74 123.40 668.04 123.60 667.88 123.80 668.21 124.00 665.18 124.20 664.86 124.40 667.72 124.60 666.81 124.80 666.30 125.00 666.10 125.20 666.73 125.40 665.72 125.60 667.20 125.80 667.39 126.00 665.07 126.20 667.16 126.40 666.53 126.60 668.50 126.80 668.88 127.00 666.74 127.20 667.60 127.40 667.11 127.60 664.36 127.80 666.84 128.00 667.53 128.20 667.94 128.40 668.34 128.60 666.52 128.80 667.91 129.00 668.46 129.20 665.70 129.40 668.05 129.60 666.54 129.80 667.19 130.00 667.44 130.20 665.40 130.40 667.67 130.60 663.82 130.80 666.62 131.00 669.30 131.20 667.22 131.40 670.25 131.60 667.99 131.80 669.17 132.00 667.34 132.20 666.59 132.40 668.40 132.60 667.21 132.80 665.30 133.00 666.33 133.20 667.43 133.40 667.90 133.60 667.84 133.80 667.88 134.00 667.84 134.20 669.43 134.40 666.04 134.60 667.65 134.80 665.91 135.00 667.76 135.20 666.25 135.40 667.66 135.60 665.44 135.80 669.15 136.00 668.49 136.20 668.83 136.40 666.47 136.60 667.95 136.80 667.70 137.00 667.54 137.20 667.09 137.40 666.42 137.60 667.63 137.80 665.61 138.00 667.85 138.20 665.75 138.40 666.87 138.60 667.56 138.80 668.53 139.00 668.01 139.20 664.49 139.40 666.56 139.60 665.84 139.80 666.01 140.00 665.91 140.20 665.87 140.40 665.59 140.60 663.53 140.80 666.89 141.00 666.04 141.20 665.01 141.40 666.20 141.60 667.04 141.80 664.85 142.00 668.02 142.20 667.84 142.40 668.06 142.60 668.59 142.80 665.80 143.00 666.46 143.20 664.84 143.40 668.17 143.60 668.16 143.80 666.00 144.00 667.80 144.20 667.36 144.40 668.42 144.60 668.66 144.80 668.09 145.00 666.13 145.20 665.27 145.40 667.50 145.60 666.13 145.80 666.36 146.00 666.21 146.20 667.56 146.40 666.48 146.60 666.16 146.80 667.47 147.00 666.61 147.20 666.26 147.40 669.19 147.60 668.31 147.80 667.68 148.00 669.01 148.20 667.36 148.40 668.75 148.60 666.69 148.80 666.94 149.00 668.15 149.20 667.09 149.40 668.45 149.60 669.30 149.80 667.51 150.00 668.34 150.20 668.80 150.40 666.58 150.60 666.69 150.80 667.51 151.00 666.97 151.20 669.29 151.40 669.04 151.60 664.94 151.80 668.71 152.00 668.07 152.20 669.13 152.40 668.79 152.60 669.04 152.80 666.95 153.00 667.53 153.20 665.93 153.40 668.24 153.60 668.38 153.80 666.08 154.00 666.49 154.20 667.78 154.40 667.99 154.60 668.05 154.80 669.67 155.00 668.77 155.20 668.26 155.40 667.26 155.60 665.49 155.80 668.33 156.00 667.19 156.20 666.89 156.40 667.55 156.60 668.37 156.80 667.09 157.00 668.90 157.20 668.01 157.40 669.09 157.60 666.66 157.80 666.90 158.00 667.72 158.20 664.91 158.40 668.45 158.60 666.49 158.80 667.40 159.00 667.36 159.20 666.07 159.40 665.34 159.60 665.26 159.80 667.59 160.00 668.78 160.20 667.65 160.40 667.99 160.60 666.99 160.80 667.35 161.00 667.08 161.20 667.51 161.40 668.36 161.60 668.62 161.80 669.24 162.00 666.96 162.20 669.32 162.40 669.01 162.60 666.79 162.80 667.76 163.00 665.60 163.20 666.92 163.40 668.68 163.60 667.26 163.80 668.47 164.00 668.80 164.20 667.83 164.40 670.58 164.60 666.81 164.80 668.75 165.00 670.55 165.20 669.16 165.40 668.02 165.60 667.43 165.80 666.22 166.00 669.86 166.20 668.81 166.40 666.09 166.60 666.75 166.80 665.42 167.00 666.98 167.20 665.30 167.40 667.66 167.60 667.94 167.80 668.95 168.00 669.14 168.20 665.98 168.40 668.40 168.60 665.66 168.80 666.57 169.00 667.68 169.20 665.81 169.40 665.45 169.60 665.77 169.80 669.52 170.00 667.07 170.20 669.06 170.40 670.07 170.60 668.81 170.80 667.14 171.00 669.44 171.20 665.65 171.40 666.61 171.60 665.96 171.80 667.74 172.00 667.02 172.20 666.58 172.40 668.65 172.60 665.77 172.80 667.72 173.00 667.32 173.20 667.23 173.40 667.36 173.60 668.84 173.80 669.60 174.00 667.10 174.20 665.88 174.40 665.18 174.60 666.70 174.80 665.64 175.00 667.58 175.20 669.17 175.40 668.34 175.60 667.92 175.80 667.78 176.00 666.89 176.20 667.52 176.40 666.40 176.60 669.20 176.80 667.02 177.00 668.77 177.20 666.30 177.40 668.70 177.60 667.44 177.80 667.74 178.00 667.58 178.20 669.10 178.40 667.90 178.60 667.71 178.80 668.86 179.00 667.05 179.20 668.20 179.40 668.97 179.60 666.35 179.80 664.64 180.00 667.78 180.20 669.31 180.40 669.99 180.60 668.35 180.80 668.30 181.00 667.62 181.20 668.90 181.40 669.41 181.60 666.35 181.80 669.26 182.00 667.80 182.20 669.31 182.40 668.04 182.60 666.80 182.80 667.34 183.00 668.74 183.20 669.51 183.40 666.59 183.60 669.43 183.80 666.41 184.00 665.02 184.20 669.52 184.40 666.98 184.60 667.33 184.80 667.63 185.00 667.88 185.20 667.21 185.40 668.48 185.60 667.01 185.80 667.70 186.00 667.99 186.20 668.93 186.40 668.67 186.60 667.35 186.80 666.79 187.00 667.67 187.20 668.28 187.40 670.04 187.60 669.41 187.80 669.28 188.00 666.72 188.20 667.90 188.40 670.20 188.60 667.28 188.80 669.30 189.00 667.68 189.20 667.17 189.40 667.46 189.60 668.76 189.80 666.75 190.00 665.63 190.20 667.99 190.40 667.68 190.60 666.93 190.80 668.14 191.00 668.46 191.20 667.86 191.40 669.99 191.60 666.87 191.80 668.28 192.00 666.71 192.20 668.55 192.40 668.70 192.60 666.19 192.80 667.98 193.00 667.20 193.20 668.35 193.40 667.91 193.60 667.13 193.80 667.19 194.00 666.86 194.20 668.03 194.40 666.63 194.60 667.65 194.80 666.46 195.00 666.40 195.20 668.95 195.40 666.16 195.60 668.12 195.80 664.91 196.00 667.38 196.20 668.14 196.40 668.56 196.60 667.74 196.80 668.82 197.00 664.63 197.20 667.20 197.40 666.25 197.60 665.78 197.80 667.13 198.00 668.90 198.20 667.43 198.40 665.66 198.60 666.96 198.80 667.67 199.00 667.87 199.20 668.42 199.40 668.31 199.60 667.35 199.80 668.69 200.00 666.90 200.20 667.21 200.40 668.20 200.60 668.20 200.80 667.00 201.00 666.46 201.20 668.19 201.40 667.72 201.60 665.74 201.80 667.54 202.00 666.10 202.20 668.05 202.40 667.64 202.60 666.74 202.80 668.11 203.00 668.39 203.20 668.12 203.40 667.55 203.60 666.33 203.80 667.21 204.00 667.34 204.20 666.43 204.40 666.57 204.60 666.88 204.80 666.69 205.00 666.97 205.20 668.47 205.40 666.77 205.60 666.29 205.80 667.09 206.00 666.22 206.20 666.77 206.40 666.20 206.60 669.77 206.80 665.77 207.00 666.08 207.20 669.08 207.40 666.52 207.60 667.81 207.80 668.20 208.00 666.35 208.20 667.82 208.40 667.68 208.60 669.01 208.80 668.60 209.00 666.85 209.20 667.65 209.40 666.55 209.60 667.66 209.80 667.59 210.00 667.38 210.20 668.63 210.40 667.11 210.60 666.12 210.80 667.35 211.00 667.87 211.20 668.09 211.40 667.96 211.60 669.31 211.80 665.85 212.00 668.00 212.20 666.63 212.40 667.05 212.60 666.60 212.80 668.71 213.00 667.74 213.20 665.69 213.40 667.36 213.60 668.35 213.80 668.35 214.00 666.14 214.20 667.52 214.40 666.71 214.60 666.44 214.80 666.70 215.00 667.13 215.20 666.98 215.40 666.42 215.60 665.81 215.80 668.56 216.00 667.49 216.20 666.44 216.40 666.55 216.60 666.81 216.80 668.32 217.00 668.48 217.20 669.03 217.40 665.75 217.60 667.65 217.80 667.14 218.00 666.01 218.20 666.72 218.40 665.74 218.60 667.26 218.80 668.10 219.00 666.09 219.20 667.17 219.40 666.86 219.60 669.57 219.80 665.30 220.00 667.58 220.20 668.77 220.40 667.68 220.60 666.84 220.80 667.56 221.00 669.59 221.20 669.34 221.40 668.69 221.60 667.67 221.80 665.37 222.00 667.40 222.20 667.98 222.40 666.44 222.60 667.32 222.80 667.27 223.00 668.19 223.20 668.88 223.40 668.36 223.60 666.94 223.80 667.04 224.00 667.68 224.20 666.39 224.40 667.93 224.60 668.26 224.80 667.15 225.00 666.72 225.20 668.31 225.40 667.79 225.60 666.10 225.80 665.83 226.00 666.92 226.20 667.21 226.40 666.90 226.60 666.44 226.80 666.27 227.00 667.99 227.20 667.59 227.40 666.62 227.60 666.02 227.80 667.74 228.00 665.68 228.20 663.65 228.40 665.56 228.60 665.61 228.80 666.21 229.00 665.86 229.20 666.40 229.40 667.91 229.60 666.84 229.80 666.40 230.00 666.35 230.20 666.00 230.40 667.65 230.60 667.05 230.80 668.36 231.00 666.47 231.20 667.53 231.40 666.34 231.60 665.48 231.80 668.08 232.00 668.30 232.20 666.51 232.40 666.60 232.60 667.01 232.80 666.67 233.00 669.08 233.20 666.67 233.40 665.63 233.60 666.58 233.80 667.00 234.00 668.19 234.20 667.31 234.40 668.10 234.60 667.34 234.80 669.00 235.00 667.64 235.20 668.21 235.40 668.49 235.60 667.49 235.80 666.64 236.00 669.58 236.20 668.14 236.40 668.10 236.60 666.07 236.80 665.44 237.00 667.86 237.20 668.72 237.40 667.22 237.60 666.77 237.80 666.70 238.00 668.87 238.20 669.26 238.40 666.46 238.60 667.68 238.80 668.80 239.00 668.43 239.20 668.00 239.40 668.98 239.60 667.66 239.80 667.04 240.00 668.06 240.20 666.62 240.40 667.97 240.60 665.60 240.80 667.85 241.00 667.85 241.20 666.85 241.40 666.49 241.60 667.39 241.80 668.36 242.00 668.12 242.20 667.71 242.40 667.24 242.60 668.88 242.80 669.11 243.00 666.83 243.20 668.65 243.40 668.11 243.60 666.33 243.80 668.33 244.00 665.27 244.20 668.49 244.40 668.54 244.60 666.91 244.80 666.44 245.00 667.41 245.20 667.51 245.40 666.68 245.60 665.41 245.80 665.68 246.00 668.33 246.20 666.52 246.40 666.04 246.60 667.35 246.80 667.14 247.00 664.95 247.20 666.48 247.40 666.90 247.60 667.22 247.80 665.96 248.00 667.14 248.20 668.82 248.40 666.71 248.60 666.52 248.80 669.03 249.00 667.09 249.20 665.91 249.40 665.21 249.60 666.91 249.80 666.31 250.00 667.08 250.20 666.01 250.40 665.32 250.60 668.68 250.80 667.39 251.00 668.08 251.20 665.71 251.40 667.65 251.60 667.77 251.80 666.66 252.00 667.44 252.20 666.64 252.40 668.03 252.60 666.29 252.80 666.97 253.00 666.93 253.20 665.29 253.40 664.67 253.60 668.71 253.80 666.34 254.00 664.63 254.20 667.85 254.40 665.61 254.60 666.49 254.80 667.16 255.00 668.95 255.20 669.04 255.40 665.76 255.60 667.04 255.80 668.41 256.00 666.76 256.20 669.54 256.40 667.60 256.60 666.41 256.80 666.63 257.00 667.80 257.20 668.04 257.40 666.92 257.60 669.32 257.80 667.38 258.00 667.52 258.20 667.81 258.40 667.86 258.60 666.72 258.80 669.43 259.00 667.45 259.20 666.90 259.40 668.78 259.60 668.57 259.80 668.31 260.00 667.91 260.20 667.57 260.40 667.73 260.60 667.40 260.80 667.39 261.00 666.83 261.20 665.83 261.40 667.26 261.60 668.59 261.80 665.87 262.00 666.42 262.20 666.36 262.40 667.71 262.60 666.99 262.80 667.97 263.00 667.82 263.20 667.02 263.40 666.80 263.60 666.38 263.80 666.63 264.00 667.27 264.20 667.20 264.40 667.07 264.60 667.33 264.80 667.92 265.00 667.11 265.20 667.28 265.40 666.09 265.60 666.25 265.80 665.56 266.00 666.78 266.20 666.56 266.40 668.77 266.60 667.06 266.80 667.21 267.00 664.10 267.20 667.05 267.40 666.79 267.60 668.04 267.80 666.47 268.00 668.76 268.20 666.14 268.40 666.85 268.60 668.06 268.80 667.29 269.00 666.83 269.20 667.84 269.40 665.73 269.60 665.77 269.80 667.80 270.00 666.98 270.20 666.07 270.40 665.31 270.60 666.21 270.80 663.82 271.00 666.94 271.20 665.83 271.40 665.79 271.60 667.05 271.80 666.54 272.00 667.22 272.20 665.91 272.40 664.78 272.60 666.81 272.80 666.53 273.00 665.37 273.20 665.47 273.40 666.32 273.60 665.93 273.80 665.03 274.00 666.58 274.20 664.70 274.40 666.25 274.60 667.50 274.80 665.11 275.00 665.57 275.20 666.38 275.40 665.49 275.60 666.95 275.80 667.14 276.00 667.06 276.20 666.51 276.40 667.04 276.60 666.34 276.80 665.59 277.00 666.79 277.20 668.19 277.40 667.29 277.60 667.93 277.80 666.40 278.00 667.24 278.20 668.03 278.40 669.06 278.60 664.88 278.80 667.74 279.00 667.74 279.20 666.48 279.40 667.35 279.60 667.35 279.80 666.78 280.00 666.65 280.20 668.32 280.40 666.87 280.60 668.00 280.80 668.83 281.00 667.69 281.20 667.47 281.40 666.50 281.60 667.31 281.80 668.23 282.00 668.34 282.20 667.94 282.40 666.19 282.60 666.83 282.80 668.56 283.00 666.12 283.20 668.67 283.40 667.48 283.60 669.10 283.80 666.56 284.00 666.82 284.20 667.61 284.40 665.63 284.60 667.73 284.80 665.87 285.00 664.93 285.20 668.04 285.40 667.77 285.60 666.83 285.80 667.00 286.00 666.33 286.20 667.65 286.40 665.90 286.60 668.60 286.80 668.75 287.00 666.04 287.20 664.95 287.40 665.77 287.60 666.00 287.80 667.44 288.00 665.05 288.20 666.57 288.40 666.75 288.60 665.42 288.80 666.37 289.00 667.37 289.20 667.49 289.40 667.35 289.60 667.41 289.80 666.66 290.00 665.50 290.20 665.94 290.40 668.44 290.60 665.52 290.80 666.60 291.00 666.08 291.20 667.89 291.40 667.29 291.60 666.17 291.80 666.28 292.00 666.96 292.20 665.66 292.40 667.38 292.60 667.45 292.80 666.03 293.00 667.45 293.20 667.41 293.40 667.15 293.60 666.43 293.80 666.85 294.00 667.17 294.20 666.72 294.40 667.27 294.60 667.82 294.80 667.77 295.00 665.69 295.20 666.87 295.40 667.95 295.60 666.21 295.80 666.61 296.00 667.73 296.20 666.05 296.40 667.82 296.60 666.69 296.80 666.37 297.00 666.63 297.20 667.57 297.40 665.43 297.60 666.41 297.80 667.43 298.00 666.31 298.20 665.46 298.40 666.67 298.60 666.61 298.80 664.28 299.00 667.32 299.20 666.22 299.40 664.95 299.60 666.25 299.80 666.04 300.00 667.72 300.20 667.67 300.40 668.16 300.60 667.02 300.80 666.12 301.00 667.47 301.20 666.06 301.40 665.80 301.60 666.80 301.80 667.44 302.00 667.25 302.20 666.06 302.40 665.91 302.60 666.04 302.80 666.14 303.00 666.12 303.20 665.72 303.40 667.19 303.60 665.83 303.80 666.59 304.00 664.99 304.20 668.86 304.40 667.33 304.60 667.98 304.80 667.47 305.00 665.93 305.20 667.90 305.40 666.05 305.60 667.37 305.80 667.07 306.00 668.30 306.20 666.29 306.40 668.21 306.60 667.36 306.80 668.15 307.00 667.40 307.20 666.73 307.40 667.38 307.60 667.67 307.80 666.49 308.00 668.22 308.20 668.12 308.40 667.98 308.60 667.37 308.80 668.54 309.00 668.35 309.20 668.72 309.40 665.58 309.60 667.30 309.80 667.08 310.00 668.40 310.20 667.27 310.40 666.46 310.60 666.78 310.80 666.08 311.00 668.08 311.20 667.17 311.40 666.96 311.60 667.89 311.80 667.76 312.00 669.41 312.20 667.69 312.40 666.88 312.60 666.88 312.80 665.48 313.00 666.50 313.20 667.45 313.40 667.42 313.60 667.85 313.80 667.66 314.00 666.84 314.20 665.90 314.40 666.22 314.60 667.43 314.80 668.34 315.00 668.21 315.20 667.65 315.40 666.29 315.60 667.33 315.80 666.39 316.00 666.24 316.20 666.57 316.40 666.13 316.60 667.23 316.80 666.40 317.00 668.88 317.20 666.80 317.40 666.18 317.60 668.65 317.80 666.48 318.00 667.66 318.20 667.48 318.40 666.31 318.60 667.17 318.80 666.76 319.00 666.49 319.20 666.07 319.40 666.99 319.60 666.18 319.80 666.11 320.00 665.58 320.20 667.58 320.40 668.72 320.60 668.29 320.80 666.57 321.00 667.72 321.20 665.52 321.40 666.71 321.60 666.61 321.80 665.60 322.00 666.37 322.20 667.16 322.40 667.67 322.60 665.72 322.80 666.83 323.00 665.85 323.20 667.77 323.40 668.35 323.60 664.68 323.80 666.50 324.00 668.15 324.20 666.79 324.40 667.29 324.60 668.10 324.80 667.77 325.00 667.17 325.20 667.71 325.40 667.85 325.60 667.57 325.80 666.94 326.00 666.73 326.20 666.43 326.40 666.38 326.60 666.79 326.80 666.51 327.00 667.10 327.20 666.35 327.40 665.06 327.60 666.86 327.80 667.90 328.00 666.03 328.20 665.88 328.40 666.40 328.60 666.33 328.80 665.37 329.00 666.69 329.20 665.85 329.40 665.25 329.60 664.44 329.80 665.95 330.00 665.93 330.20 667.91 330.40 665.34 330.60 665.44 330.80 667.60 331.00 667.20 331.20 667.43 331.40 665.30 331.60 666.17 331.80 665.62 332.00 665.94 332.20 664.95 332.40 665.19 332.60 666.62 332.80 664.73 333.00 666.92 333.20 666.97 333.40 665.83 333.60 666.99 333.80 665.66 334.00 665.85 334.20 667.45 334.40 668.18 334.60 666.93 334.80 666.94 335.00 668.90 335.20 666.11 335.40 665.55 335.60 665.93 335.80 666.53 336.00 665.70 336.20 666.91 336.40 666.19 336.60 667.59 336.80 667.83 337.00 665.48 337.20 668.50 337.40 664.75 337.60 667.83 337.80 665.40 338.00 664.89 338.20 665.63 338.40 667.65 338.60 666.50 338.80 667.13 339.00 668.74 339.20 668.46 339.40 667.82 339.60 666.96 339.80 666.59 340.00 666.60 340.20 666.25 340.40 666.77 340.60 666.77 340.80 666.59 341.00 666.42 341.20 667.94 341.40 667.72 341.60 666.49 341.80 667.63 342.00 667.02 342.20 667.56 342.40 668.72 342.60 669.36 342.80 668.88 343.00 665.82 343.20 666.79 343.40 665.31 343.60 667.00 343.80 667.55 344.00 667.10 344.20 668.33 344.40 667.72 344.60 666.55 344.80 667.92 345.00 666.07 345.20 669.69 345.40 667.36 345.60 667.50 345.80 669.55 346.00 666.78 346.20 667.71 346.40 667.41 346.60 667.88 346.80 667.20 347.00 666.43 347.20 665.41 347.40 667.39 347.60 668.62 347.80 669.14 348.00 668.24 348.20 668.60 348.40 668.01 348.60 665.23 348.80 667.47 349.00 668.62 349.20 665.62 349.40 666.32 349.60 666.95 349.80 667.88 350.00 668.52 350.20 667.85 350.40 666.20 350.60 665.93 350.80 666.93 351.00 665.24 351.20 664.88 351.40 665.08 351.60 665.50 351.80 666.41 352.00 666.94 352.20 667.23 352.40 667.77 352.60 665.96 352.80 665.68 353.00 668.01 353.20 667.16 353.40 667.47 353.60 666.87 353.80 665.14 354.00 666.66 354.20 667.41 354.40 667.66 354.60 665.88 354.80 667.42 355.00 668.05 355.20 666.92 355.40 668.21 355.60 668.14 355.80 666.93 356.00 667.68 356.20 666.54 356.40 666.41 356.60 666.35 356.80 666.16 357.00 666.95 357.20 666.94 357.40 665.79 357.60 666.42 357.80 666.28 358.00 667.31 358.20 667.30 358.40 666.82 358.60 666.02 358.80 666.83 359.00 666.37 359.20 667.71 359.40 664.66 359.60 667.07 359.80 666.10 360.00 668.04 360.20 667.65 360.40 666.09 360.60 666.32 360.80 668.10 361.00 665.56 361.20 666.58 361.40 666.73 361.60 665.53 361.80 666.29 362.00 667.53 362.20 667.06 362.40 667.70 362.60 664.95 362.80 666.50 363.00 667.30 363.20 667.17 363.40 666.61 363.60 666.88 363.80 666.54 364.00 666.27 364.20 667.40 364.40 666.63 364.60 665.99 364.80 667.15 365.00 666.45 365.20 666.75 365.40 666.90 365.60 665.13 365.80 665.16 366.00 666.30 366.20 665.87 366.40 666.59 366.60 668.06 366.80 667.01 367.00 667.08 367.20 666.87 367.40 667.07 367.60 665.35 367.80 665.75 368.00 665.46 368.20 665.38 368.40 668.31 368.60 665.05 368.80 665.84 369.00 665.82 369.20 666.18 369.40 668.18 369.60 664.70 369.80 666.71 370.00 666.19 370.20 666.94 370.40 667.34 370.60 667.04 370.80 666.63 371.00 666.39 371.20 666.43 371.40 664.17 371.60 665.30 371.80 666.25 372.00 665.20 372.20 666.48 372.40 664.89 372.60 666.13 372.80 665.51 373.00 663.91 373.20 666.92 373.40 666.96 373.60 667.42 373.80 666.10 374.00 666.02 374.20 666.02 374.40 666.64 374.60 666.02 374.80 665.45 375.00 666.14 375.20 666.04 375.40 666.63 375.60 667.90 375.80 665.82 376.00 667.74 376.20 666.35 376.40 666.75 376.60 667.37 376.80 664.60 377.00 667.40 377.20 667.28 377.40 667.75 377.60 668.18 377.80 667.52 378.00 666.99 378.20 666.88 378.40 666.94 378.60 667.33 378.80 666.25 379.00 667.93 379.20 667.30 379.40 667.15 379.60 667.50 379.80 667.34 380.00 666.46 380.20 666.62 380.40 666.56 380.60 665.54 380.80 666.83 381.00 665.67 381.20 666.90 381.40 668.42 381.60 666.73 381.80 665.86 382.00 668.45 382.20 667.78 382.40 666.20 382.60 667.46 382.80 664.89 383.00 665.86 383.20 666.59 383.40 666.10 383.60 665.24 383.80 668.94 384.00 667.42 384.20 668.86 384.40 666.52 384.60 666.84 384.80 664.80 385.00 667.18 385.20 666.23 385.40 664.99 385.60 667.37 385.80 665.81 386.00 664.82 386.20 666.84 386.40 665.34 386.60 665.90 386.80 664.47 387.00 667.32 387.20 665.49 387.40 667.16 387.60 667.82 387.80 666.02 388.00 666.51 388.20 665.15 388.40 666.36 388.60 665.26 388.80 666.20 389.00 666.43 389.20 665.06 389.40 664.75 389.60 666.71 389.80 664.21 390.00 665.68 390.20 666.40 390.40 666.90 390.60 663.93 390.80 665.68 391.00 666.32 391.20 667.17 391.40 665.90 391.60 667.88 391.80 664.87 392.00 666.52 392.20 665.67 392.40 663.75 392.60 665.50 392.80 666.28 393.00 666.91 393.20 664.76 393.40 667.31 393.60 665.48 393.80 666.80 394.00 665.02 394.20 665.50 394.40 666.13 394.60 665.72 394.80 666.96 395.00 666.19 395.20 668.40 395.40 666.37 395.60 667.84 395.80 666.50 396.00 666.86 396.20 668.42 396.40 666.95 396.60 666.32 396.80 666.49 397.00 666.66 397.20 665.87 397.40 666.95 397.60 665.92 397.80 666.72 398.00 667.40 398.20 663.77 398.40 667.14 398.60 666.12 398.80 668.20 399.00 666.58 399.20 668.25 399.40 667.89 399.60 667.34 399.80 666.97 400.00 666.77 400.20 667.09 400.40 666.54 400.60 668.67 400.80 665.34 401.00 666.03 401.20 664.01 401.40 667.46 401.60 666.98 401.80 664.80 402.00 666.92 402.20 666.30 402.40 665.87 402.60 666.28 402.80 666.70 403.00 664.73 403.20 666.06 403.40 664.01 403.60 665.73 403.80 667.94 404.00 664.67 404.20 667.35 404.40 666.41 404.60 666.78 404.80 666.74 405.00 665.77 405.20 665.61 405.40 666.52 405.60 666.14 405.80 664.42 406.00 665.12 406.20 666.35 406.40 668.15 406.60 665.48 406.80 665.64 407.00 666.82 407.20 666.55 407.40 665.29 407.60 665.93 407.80 665.67 408.00 665.85 408.20 666.00 408.40 665.87 408.60 665.73 408.80 666.04 409.00 666.51 409.20 666.65 409.40 667.06 409.60 665.77 409.80 665.82 410.00 665.05 410.20 664.85 410.40 667.81 410.60 665.01 410.80 666.01 411.00 665.75 411.20 665.62 411.40 667.11 411.60 666.21 411.80 666.08 412.00 666.43 412.20 665.87 412.40 665.79 412.60 666.48 412.80 665.38 413.00 665.50 413.20 668.07 413.40 666.13 413.60 663.72 413.80 665.41 414.00 665.75 414.20 665.40 414.40 664.54 414.60 665.45 414.80 665.52 415.00 665.51" stroke="#4a4a4a" stroke-width="0.5" fill="none" stroke-linejoin="round"/>
<path d="M108.40 671.09L110.10 658.95L110.60 658.95L112.20 671.09z" fill="#d3e4f8"/>
<path d="M108.60 667.79L109.70 641.80L111.30 667.79" stroke="#8c8c8c" stroke-width="0.4" fill="none"/>
<line x1="110.00" y1="641.80" x2="110.30" y2="654.90" stroke="#b2b0b2" stroke-width="1.25"/>
<line x1="110.30" y1="654.90" x2="110.45" y2="664.79" stroke="#6199e0" stroke-width="0.9"/>
<line x1="110.45" y1="664.79" x2="110.54" y2="671.09" stroke="#8fbbef" stroke-width="1.3"/>
<circle cx="110.30" cy="654.90" r="0.95" fill="#3d7fe0"/>
<circle cx="110.00" cy="641.80" r="1.1" fill="#f03c48"/>
<text transform="translate(110.10 640.00) rotate(-90)" textLength="18.8" lengthAdjust="spacingAndGlyphs" font-family='"Liberation Sans", sans-serif' font-size="5.2" fill="#f06a76">d=4.7171</text>
<path d="M169.50 672.05L171.20 649.81L171.70 649.81L173.30 672.05z" fill="#d3e4f8"/>
<path d="M169.70 668.75L170.80 624.60L172.40 668.75" stroke="#8c8c8c" stroke-width="0.4" fill="none"/>
<line x1="171.10" y1="624.60" x2="171.40" y2="642.40" stroke="#b2b0b2" stroke-width="1.25"/>
<line x1="171.40" y1="642.40" x2="171.75" y2="665.75" stroke="#6199e0" stroke-width="0.9"/>
<line x1="171.75" y1="665.75" x2="171.84" y2="672.05" stroke="#8fbbef" stroke-width="1.3"/>
<circle cx="171.40" cy="642.40" r="0.95" fill="#3d7fe0"/>
<circle cx="171.10" cy="624.60" r="1.1" fill="#f03c48"/>
<text transform="translate(171.20 621.40) rotate(-90)" textLength="17.1" lengthAdjust="spacingAndGlyphs" font-family='"Liberation Sans", sans-serif' font-size="5.2" fill="#f06a76">d=2.8961</text>
<path d="M196.80 671.88L198.50 608.82L199.00 608.82L200.60 671.88z" fill="#d3e4f8"/>
<path d="M197.00 668.58L196.60 506.90L199.70 668.58" stroke="#8c8c8c" stroke-width="0.4" fill="none"/>
<line x1="196.90" y1="506.90" x2="198.70" y2="587.80" stroke="#b2b0b2" stroke-width="1.25"/>
<line x1="198.70" y1="587.80" x2="199.87" y2="665.58" stroke="#6199e0" stroke-width="0.9"/>
<line x1="199.87" y1="665.58" x2="199.96" y2="671.88" stroke="#8fbbef" stroke-width="1.3"/>
<circle cx="198.70" cy="587.80" r="0.95" fill="#3d7fe0"/>
<circle cx="196.90" cy="506.90" r="1.1" fill="#f03c48"/>
<text transform="translate(197.00 504.30) rotate(-90)" textLength="17.9" lengthAdjust="spacingAndGlyphs" font-family='"Liberation Sans", sans-serif' font-size="5.2" fill="#f06a76">d=2.4853</text>
<path d="M206.20 671.80L207.90 664.07L208.40 664.07L210.00 671.80z" fill="#d3e4f8"/>
<path d="M206.40 668.50L207.50 652.20L209.10 668.50" stroke="#8c8c8c" stroke-width="0.4" fill="none"/>
<line x1="207.80" y1="652.20" x2="208.10" y2="661.50" stroke="#b2b0b2" stroke-width="1.25"/>
<line x1="208.10" y1="661.50" x2="208.16" y2="665.50" stroke="#6199e0" stroke-width="0.9"/>
<line x1="208.16" y1="665.50" x2="208.25" y2="671.80" stroke="#8fbbef" stroke-width="1.3"/>
<circle cx="208.10" cy="661.50" r="0.95" fill="#3d7fe0"/>
<circle cx="207.80" cy="652.20" r="1.1" fill="#f03c48"/>
<text transform="translate(207.90 650.20) rotate(-90)" textLength="18.1" lengthAdjust="spacingAndGlyphs" font-family='"Liberation Sans", sans-serif' font-size="5.2" fill="#f06a76">d=2.3400</text>
<path d="M237.30 671.58L239.00 656.97L239.50 656.97L241.10 671.58z" fill="#d3e4f8"/>
<path d="M237.50 668.28L238.60 642.10L240.20 668.28" stroke="#8c8c8c" stroke-width="0.4" fill="none"/>
<line x1="238.90" y1="642.10" x2="239.20" y2="652.10" stroke="#b2b0b2" stroke-width="1.25"/>
<line x1="239.20" y1="652.10" x2="239.40" y2="665.28" stroke="#6199e0" stroke-width="0.9"/>
<line x1="239.40" y1="665.28" x2="239.49" y2="671.58" stroke="#8fbbef" stroke-width="1.3"/>
<circle cx="239.20" cy="652.10" r="0.95" fill="#3d7fe0"/>
<circle cx="238.90" cy="642.10" r="1.1" fill="#f03c48"/>
<text transform="translate(239.00 639.50) rotate(-90)" textLength="18.0" lengthAdjust="spacingAndGlyphs" font-family='"Liberation Sans", sans-serif' font-size="5.2" fill="#f06a76">d=2.0383</text>
<path d="M291.90 671.24L293.60 665.06L294.10 665.06L295.70 671.24z" fill="#d3e4f8"/>
<path d="M292.10 667.94L293.20 659.80L294.80 667.94" stroke="#8c8c8c" stroke-width="0.4" fill="none"/>
<line x1="293.50" y1="659.80" x2="293.80" y2="663.00" stroke="#b2b0b2" stroke-width="1.25"/>
<line x1="293.80" y1="663.00" x2="293.83" y2="664.94" stroke="#6199e0" stroke-width="0.9"/>
<line x1="293.83" y1="664.94" x2="293.92" y2="671.24" stroke="#8fbbef" stroke-width="1.3"/>
<circle cx="293.80" cy="663.00" r="0.95" fill="#3d7fe0"/>
<path d="M309.60 671.16L311.30 648.84L311.80 648.84L313.40 671.16z" fill="#d3e4f8"/>
<path d="M309.80 667.86L310.90 630.90L312.50 667.86" stroke="#8c8c8c" stroke-width="0.4" fill="none"/>
<line x1="311.20" y1="630.90" x2="311.50" y2="641.40" stroke="#b2b0b2" stroke-width="1.25"/>
<line x1="311.50" y1="641.40" x2="311.85" y2="664.86" stroke="#6199e0" stroke-width="0.9"/>
<line x1="311.85" y1="664.86" x2="311.95" y2="671.16" stroke="#8fbbef" stroke-width="1.3"/>
<circle cx="311.50" cy="641.40" r="0.95" fill="#3d7fe0"/>
<circle cx="311.20" cy="630.90" r="1.1" fill="#f03c48"/>
<text transform="translate(311.30 627.90) rotate(-90)" textLength="18.0" lengthAdjust="spacingAndGlyphs" font-family='"Liberation Sans", sans-serif' font-size="5.2" fill="#f06a76">d=1.5659</text>
<path d="M339.00 671.03L340.70 646.71L341.20 646.71L342.80 671.03z" fill="#d3e4f8"/>
<path d="M339.20 667.73L340.30 624.70L341.90 667.73" stroke="#8c8c8c" stroke-width="0.4" fill="none"/>
<line x1="340.60" y1="624.70" x2="340.90" y2="638.60" stroke="#b2b0b2" stroke-width="1.25"/>
<line x1="340.90" y1="638.60" x2="341.29" y2="664.73" stroke="#6199e0" stroke-width="0.9"/>
<line x1="341.29" y1="664.73" x2="341.39" y2="671.03" stroke="#8fbbef" stroke-width="1.3"/>
<circle cx="340.90" cy="638.60" r="0.95" fill="#3d7fe0"/>
<circle cx="340.60" cy="624.70" r="1.1" fill="#f03c48"/>
<text transform="translate(340.70 622.10) rotate(-90)" textLength="18.0" lengthAdjust="spacingAndGlyphs" font-family='"Liberation Sans", sans-serif' font-size="5.2" fill="#f06a76">d=1.4374</text>
<path d="M384.70 670.83L386.40 666.46L386.90 666.46L388.50 670.83z" fill="#d3e4f8"/>
<path d="M384.90 667.53L386.00 663.80L387.60 667.53" stroke="#8c8c8c" stroke-width="0.4" fill="none"/>
<line x1="386.30" y1="663.80" x2="386.60" y2="665.00" stroke="#b2b0b2" stroke-width="1.25"/>
<line x1="386.60" y1="665.00" x2="386.69" y2="670.83" stroke="#8fbbef" stroke-width="1.2"/>
<circle cx="386.60" cy="665.00" r="0.95" fill="#3d7fe0"/>
<path d="M400.80 670.76L402.50 663.14L403.00 663.14L404.60 670.76z" fill="#d3e4f8"/>
<path d="M401.00 667.46L402.10 657.70L403.70 667.46" stroke="#8c8c8c" stroke-width="0.4" fill="none"/>
<line x1="402.40" y1="657.70" x2="402.70" y2="660.60" stroke="#b2b0b2" stroke-width="1.25"/>
<line x1="402.70" y1="660.60" x2="402.76" y2="664.46" stroke="#6199e0" stroke-width="0.9"/>
<line x1="402.76" y1="664.46" x2="402.85" y2="670.76" stroke="#8fbbef" stroke-width="1.3"/>
<circle cx="402.70" cy="660.60" r="0.95" fill="#3d7fe0"/>
<path d="M406.10 670.73L407.80 664.71L408.30 664.71L409.90 670.73z" fill="#d3e4f8"/>
<path d="M406.30 667.43L407.40 660.50L409.00 667.43" stroke="#8c8c8c" stroke-width="0.4" fill="none"/>
<line x1="407.70" y1="660.50" x2="408.00" y2="662.70" stroke="#b2b0b2" stroke-width="1.25"/>
<line x1="408.00" y1="662.70" x2="408.03" y2="664.43" stroke="#6199e0" stroke-width="0.9"/>
<line x1="408.03" y1="664.43" x2="408.12" y2="670.73" stroke="#8fbbef" stroke-width="1.3"/>
<circle cx="408.00" cy="662.70" r="0.95" fill="#3d7fe0"/>
<path d="M126.60 671.30L127.00 668.30L127.90 671.30z" fill="#b9d3f3"/>
<circle cx="127.00" cy="668.80" r="0.95" fill="#4d88de"/>
<path d="M260.90 670.20L261.30 667.20L262.20 670.20z" fill="#b9d3f3"/>
<circle cx="261.30" cy="667.70" r="0.95" fill="#4d88de"/>
<path d="M358.60 668.10L359.00 665.10L359.90 668.10z" fill="#b9d3f3"/>
<circle cx="359.00" cy="665.60" r="0.95" fill="#4d88de"/>
<path d="M364.10 669.50L364.50 666.50L365.40 669.50z" fill="#b9d3f3"/>
<circle cx="364.50" cy="667.00" r="0.95" fill="#4d88de"/>
</svg>
</body></html>
